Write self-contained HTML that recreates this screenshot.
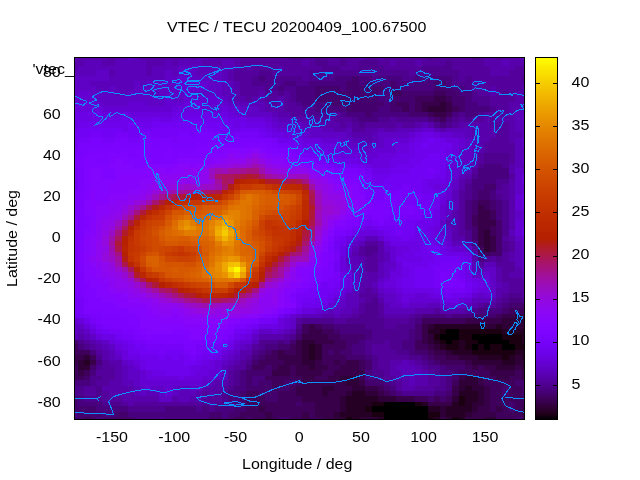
<!DOCTYPE html>
<html><head><meta charset="utf-8"><title>VTEC / TECU 20200409_100.67500</title>
<style>html,body{margin:0;padding:0;background:#fff;overflow:hidden}svg{display:block}</style></head>
<body><svg width="640" height="480" viewBox="0 0 640 480"><defs><linearGradient id="cb" x1="0" y1="0" x2="0" y2="1"><stop offset="0.0000" stop-color="#ffff00"/><stop offset="0.0167" stop-color="#fdf200"/><stop offset="0.0333" stop-color="#fbe600"/><stop offset="0.0500" stop-color="#f9db00"/><stop offset="0.0667" stop-color="#f6cf00"/><stop offset="0.0833" stop-color="#f4c400"/><stop offset="0.1000" stop-color="#f2ba00"/><stop offset="0.1167" stop-color="#f0b000"/><stop offset="0.1333" stop-color="#eda600"/><stop offset="0.1500" stop-color="#eb9d00"/><stop offset="0.1667" stop-color="#e99400"/><stop offset="0.1833" stop-color="#e68b00"/><stop offset="0.2000" stop-color="#e48300"/><stop offset="0.2167" stop-color="#e27b00"/><stop offset="0.2333" stop-color="#df7300"/><stop offset="0.2500" stop-color="#dd6c00"/><stop offset="0.2667" stop-color="#da6500"/><stop offset="0.2833" stop-color="#d85e00"/><stop offset="0.3000" stop-color="#d55700"/><stop offset="0.3167" stop-color="#d35100"/><stop offset="0.3333" stop-color="#d04c00"/><stop offset="0.3500" stop-color="#ce4600"/><stop offset="0.3667" stop-color="#cb4100"/><stop offset="0.3833" stop-color="#c83c00"/><stop offset="0.4000" stop-color="#c63700"/><stop offset="0.4167" stop-color="#c33300"/><stop offset="0.4333" stop-color="#c02e00"/><stop offset="0.4500" stop-color="#bd2a00"/><stop offset="0.4667" stop-color="#ba2700"/><stop offset="0.4833" stop-color="#b72300"/><stop offset="0.5000" stop-color="#b42000"/><stop offset="0.5167" stop-color="#b11d1b"/><stop offset="0.5333" stop-color="#ae1a35"/><stop offset="0.5500" stop-color="#ab174f"/><stop offset="0.5667" stop-color="#a81568"/><stop offset="0.5833" stop-color="#a5127f"/><stop offset="0.6000" stop-color="#a11096"/><stop offset="0.6167" stop-color="#9e0eab"/><stop offset="0.6333" stop-color="#9a0dbe"/><stop offset="0.6500" stop-color="#970bce"/><stop offset="0.6667" stop-color="#9309dd"/><stop offset="0.6833" stop-color="#8f08e9"/><stop offset="0.7000" stop-color="#8c07f3"/><stop offset="0.7167" stop-color="#8806f9"/><stop offset="0.7333" stop-color="#8405fe"/><stop offset="0.7500" stop-color="#8004ff"/><stop offset="0.7667" stop-color="#7b03fe"/><stop offset="0.7833" stop-color="#7703f9"/><stop offset="0.8000" stop-color="#7202f3"/><stop offset="0.8167" stop-color="#6d02e9"/><stop offset="0.8333" stop-color="#6801dd"/><stop offset="0.8500" stop-color="#6301ce"/><stop offset="0.8667" stop-color="#5d01be"/><stop offset="0.8833" stop-color="#5700ab"/><stop offset="0.9000" stop-color="#510096"/><stop offset="0.9167" stop-color="#4a007f"/><stop offset="0.9333" stop-color="#420068"/><stop offset="0.9500" stop-color="#39004f"/><stop offset="0.9667" stop-color="#2f0035"/><stop offset="0.9833" stop-color="#21001b"/><stop offset="1.0000" stop-color="#000000"/></linearGradient></defs><rect width="640" height="480" fill="#fff"/><g shape-rendering="crispEdges"><path fill="#5c01ba" d="M74,58h4v2h-4zM122,58h6v2h-6zM134,58h6v2h-6zM184,58h6v2h-6zM196,58h13v2h-13zM522,58h2v2h-2zM84,60h18v6h-18zM115,60h31v6h-31zM165,60h7v6h-7zM178,60h24v6h-24zM222,60h12v6h-12zM502,60h7v6h-7zM78,66h68v4h-68zM152,66h26v4h-26zM196,66h38v4h-38zM74,70h22v6h-22zM115,70h31v6h-31zM152,70h13v6h-13zM172,70h6v6h-6zM196,70h19v6h-19zM222,70h6v6h-6zM109,76h56v5h-56zM222,76h6v5h-6zM90,81h44v5h-44zM140,81h6v5h-6zM222,81h12v5h-12zM96,86h13v5h-13zM115,86h19v5h-19zM222,86h12v5h-12zM115,91h13v5h-13zM146,91h13v5h-13zM222,91h12v5h-12zM228,96h6v6h-6zM234,102h31v4h-31zM259,106h6v6h-6zM522,106h2v6h-2zM272,112h6v5h-6zM515,112h9v5h-9zM278,117h18v5h-18zM515,117h7v5h-7zM302,122h7v6h-7zM422,122h6v6h-6zM515,122h9v6h-9zM322,128h12v4h-12zM346,128h6v4h-6zM378,128h6v4h-6zM396,128h19v4h-19zM434,128h6v4h-6zM446,128h26v4h-26zM515,128h9v4h-9zM346,132h6v6h-6zM372,132h6v6h-6zM465,132h7v6h-7zM522,132h2v6h-2zM352,138h13v5h-13zM372,138h6v5h-6zM472,138h6v5h-6zM515,138h7v5h-7zM359,143h13v5h-13zM472,143h6v5h-6zM515,143h7v5h-7zM472,148h6v5h-6zM515,148h9v5h-9zM472,153h6v5h-6zM515,153h9v5h-9zM515,158h7v6h-7zM465,164h7v4h-7zM515,164h9v4h-9zM465,168h7v6h-7zM459,174h6v5h-6zM452,190h7v4h-7zM452,194h7v6h-7zM452,200h7v5h-7zM452,205h7v5h-7zM446,215h6v5h-6zM446,226h6v4h-6zM509,230h6v6h-6zM365,236h13v5h-13zM359,241h6v5h-6zM452,241h13v5h-13zM515,241h7v5h-7zM352,246h7v6h-7zM515,246h7v6h-7zM384,252h6v4h-6zM515,252h7v4h-7zM346,256h13v6h-13zM384,256h6v6h-6zM515,256h7v6h-7zM352,262h7v5h-7zM378,262h6v5h-6zM472,262h6v5h-6zM484,262h12v5h-12zM515,262h7v5h-7zM352,267h7v5h-7zM378,267h6v5h-6zM472,267h6v5h-6zM378,272h6v6h-6zM522,272h2v6h-2zM372,282h6v6h-6zM496,282h6v6h-6zM352,288h7v5h-7zM346,293h13v5h-13zM378,293h6v5h-6zM346,298h13v5h-13zM472,298h18v5h-18zM346,303h13v5h-13zM384,303h6v5h-6zM428,303h12v5h-12zM465,303h7v5h-7zM328,308h6v6h-6zM340,308h12v6h-12zM384,308h31v6h-31zM302,314h20v4h-20zM334,314h6v4h-6zM78,329h6v5h-6zM284,329h6v5h-6zM74,334h4v6h-4zM84,334h6v6h-6zM96,340h6v4h-6zM252,340h7v4h-7zM102,344h7v6h-7zM246,344h6v6h-6zM109,350h6v5h-6zM109,355h6v5h-6zM234,355h6v5h-6zM228,360h6v5h-6zM402,360h7v5h-7zM122,365h6v5h-6zM222,365h6v5h-6zM396,365h19v5h-19zM122,370h6v6h-6zM222,370h6v6h-6zM402,370h20v6h-20zM122,376h6v4h-6zM222,376h6v4h-6zM409,376h6v4h-6zM122,380h12v6h-12zM209,380h6v6h-6zM409,380h6v6h-6zM134,386h6v5h-6zM178,386h12v5h-12zM134,391h6v5h-6zM146,391h13v5h-13zM178,391h18v5h-18zM178,396h12v6h-12z"/><path fill="#5800ac" d="M78,58h31v2h-31zM115,58h7v2h-7zM140,58h44v2h-44zM190,58h6v2h-6zM209,58h31v2h-31zM359,58h6v2h-6zM378,58h6v2h-6zM402,58h7v2h-7zM484,58h12v2h-12zM502,58h20v2h-20zM74,60h10v6h-10zM102,60h13v6h-13zM146,60h19v6h-19zM172,60h6v6h-6zM202,60h20v6h-20zM234,60h6v6h-6zM302,60h7v6h-7zM390,60h6v6h-6zM415,60h7v6h-7zM484,60h18v6h-18zM509,60h15v6h-15zM74,66h4v4h-4zM146,66h6v4h-6zM234,66h6v4h-6zM246,66h6v4h-6zM278,66h6v4h-6zM490,66h25v4h-25zM109,70h6v6h-6zM146,70h6v6h-6zM228,70h6v6h-6zM490,70h19v6h-19zM228,76h6v5h-6zM234,81h6v5h-6zM234,86h6v5h-6zM490,86h6v5h-6zM522,86h2v5h-2zM234,91h6v5h-6zM259,91h6v5h-6zM490,91h6v5h-6zM515,91h9v5h-9zM234,96h12v6h-12zM252,96h13v6h-13zM278,96h6v6h-6zM515,96h9v6h-9zM265,102h7v4h-7zM278,102h6v4h-6zM509,102h15v4h-15zM265,106h19v6h-19zM509,106h13v6h-13zM278,112h12v5h-12zM509,112h6v5h-6zM296,117h19v5h-19zM328,117h6v5h-6zM484,117h6v5h-6zM496,117h19v5h-19zM309,122h31v6h-31zM346,122h6v6h-6zM396,122h6v6h-6zM415,122h7v6h-7zM428,122h6v6h-6zM459,122h31v6h-31zM509,122h6v6h-6zM334,128h12v4h-12zM365,128h13v4h-13zM384,128h12v4h-12zM440,128h6v4h-6zM472,128h24v4h-24zM509,128h6v4h-6zM352,132h20v6h-20zM472,132h24v6h-24zM509,132h13v6h-13zM365,138h7v5h-7zM478,138h12v5h-12zM509,138h6v5h-6zM478,143h6v5h-6zM478,148h6v5h-6zM472,158h6v6h-6zM472,164h6v4h-6zM509,164h6v4h-6zM509,168h6v6h-6zM465,174h7v5h-7zM459,179h6v5h-6zM509,179h6v5h-6zM459,184h6v6h-6zM509,184h6v6h-6zM509,190h6v4h-6zM509,194h6v6h-6zM509,200h6v5h-6zM509,205h6v5h-6zM452,210h7v5h-7zM509,210h6v5h-6zM452,215h7v5h-7zM509,215h6v5h-6zM446,220h13v6h-13zM509,220h6v6h-6zM452,226h7v4h-7zM509,226h6v4h-6zM452,230h7v6h-7zM452,236h13v5h-13zM509,236h6v5h-6zM378,241h6v5h-6zM465,241h7v5h-7zM378,246h6v6h-6zM352,252h7v4h-7zM378,252h6v4h-6zM472,252h6v4h-6zM509,252h6v4h-6zM359,256h6v6h-6zM378,256h6v6h-6zM472,256h6v6h-6zM509,256h6v6h-6zM359,262h6v5h-6zM359,267h6v5h-6zM478,267h6v5h-6zM496,267h6v5h-6zM515,267h7v5h-7zM359,272h19v6h-19zM496,272h6v6h-6zM509,272h13v6h-13zM359,278h19v4h-19zM496,278h6v4h-6zM522,278h2v4h-2zM359,282h13v6h-13zM502,282h7v6h-7zM359,288h6v5h-6zM372,288h6v5h-6zM496,288h13v5h-13zM496,293h6v5h-6zM359,298h6v5h-6zM378,298h6v5h-6zM490,298h6v5h-6zM472,303h6v5h-6zM352,308h7v6h-7zM415,308h19v6h-19zM440,308h25v6h-25zM322,314h12v4h-12zM340,314h12v4h-12zM384,314h25v4h-25zM290,329h6v5h-6zM78,334h6v6h-6zM259,334h25v6h-25zM90,340h6v4h-6zM96,344h6v6h-6zM102,350h7v5h-7zM240,350h12v5h-12zM102,355h7v5h-7zM240,355h6v5h-6zM109,360h13v5h-13zM234,360h6v5h-6zM390,360h12v5h-12zM409,360h6v5h-6zM115,365h7v5h-7zM228,365h6v5h-6zM390,365h6v5h-6zM415,365h7v5h-7zM115,370h7v6h-7zM390,370h12v6h-12zM422,370h6v6h-6zM115,376h7v4h-7zM396,376h13v4h-13zM415,376h13v4h-13zM109,380h13v6h-13zM215,380h13v6h-13zM402,380h7v6h-7zM415,380h13v6h-13zM102,386h32v5h-32zM202,386h20v5h-20zM402,386h13v5h-13zM109,391h25v5h-25zM196,391h6v5h-6zM209,391h6v5h-6zM122,396h37v6h-37zM172,396h6v6h-6zM190,396h12v6h-12zM128,402h6v4h-6z"/><path fill="#53009d" d="M109,58h6v2h-6zM240,58h50v2h-50zM302,58h13v2h-13zM322,58h18v2h-18zM346,58h13v2h-13zM365,58h13v2h-13zM384,58h18v2h-18zM409,58h19v2h-19zM434,58h38v2h-38zM478,58h6v2h-6zM496,58h6v2h-6zM240,60h62v6h-62zM309,60h6v6h-6zM328,60h12v6h-12zM346,60h13v6h-13zM378,60h12v6h-12zM396,60h19v6h-19zM422,60h24v6h-24zM452,60h32v6h-32zM240,66h6v4h-6zM252,66h26v4h-26zM284,66h38v4h-38zM340,66h19v4h-19zM384,66h38v4h-38zM452,66h38v4h-38zM515,66h9v4h-9zM234,70h25v6h-25zM272,70h37v6h-37zM409,70h6v6h-6zM459,70h31v6h-31zM509,70h15v6h-15zM234,76h18v5h-18zM302,76h7v5h-7zM459,76h6v5h-6zM472,76h50v5h-50zM240,81h12v5h-12zM472,81h52v5h-52zM240,86h25v5h-25zM472,86h18v5h-18zM496,86h26v5h-26zM240,91h19v5h-19zM272,91h6v5h-6zM284,91h6v5h-6zM478,91h12v5h-12zM496,91h6v5h-6zM509,91h6v5h-6zM246,96h6v6h-6zM265,96h13v6h-13zM284,96h6v6h-6zM490,96h25v6h-25zM272,102h6v4h-6zM284,102h12v4h-12zM490,102h19v4h-19zM284,106h18v6h-18zM496,106h13v6h-13zM290,112h19v5h-19zM334,112h6v5h-6zM484,112h25v5h-25zM315,117h13v5h-13zM334,117h18v5h-18zM390,117h6v5h-6zM459,117h6v5h-6zM472,117h12v5h-12zM490,117h6v5h-6zM340,122h6v6h-6zM352,122h7v6h-7zM365,122h31v6h-31zM402,122h13v6h-13zM452,122h7v6h-7zM490,122h19v6h-19zM352,128h13v4h-13zM496,128h13v4h-13zM496,132h13v6h-13zM490,138h19v5h-19zM484,143h31v5h-31zM484,148h31v5h-31zM478,153h6v5h-6zM509,153h6v5h-6zM478,158h6v6h-6zM509,158h6v6h-6zM472,168h6v6h-6zM509,174h6v5h-6zM465,179h7v5h-7zM502,184h7v6h-7zM459,190h6v4h-6zM496,190h13v4h-13zM459,194h6v6h-6zM502,194h7v6h-7zM459,200h6v5h-6zM459,205h6v5h-6zM459,210h6v5h-6zM459,215h6v5h-6zM459,220h6v6h-6zM459,226h6v4h-6zM459,230h6v6h-6zM502,236h7v5h-7zM365,241h13v5h-13zM509,241h6v5h-6zM359,246h6v6h-6zM472,246h6v6h-6zM509,246h6v6h-6zM359,252h6v4h-6zM372,252h6v4h-6zM502,252h7v4h-7zM365,256h13v6h-13zM490,256h6v6h-6zM502,256h7v6h-7zM365,262h13v5h-13zM478,262h6v5h-6zM496,262h19v5h-19zM365,267h13v5h-13zM502,267h13v5h-13zM502,272h7v6h-7zM502,278h20v4h-20zM509,282h15v6h-15zM365,288h7v5h-7zM509,288h15v5h-15zM359,293h19v5h-19zM502,293h7v5h-7zM522,293h2v5h-2zM365,298h7v5h-7zM496,298h6v5h-6zM359,303h6v5h-6zM378,303h6v5h-6zM478,303h6v5h-6zM490,303h6v5h-6zM359,308h6v6h-6zM378,308h6v6h-6zM434,308h6v6h-6zM465,308h7v6h-7zM352,314h7v4h-7zM378,314h6v4h-6zM409,314h6v4h-6zM296,318h6v6h-6zM334,318h12v6h-12zM384,318h25v6h-25zM384,324h12v5h-12zM284,334h6v6h-6zM84,340h6v4h-6zM384,340h6v4h-6zM90,344h6v6h-6zM252,344h7v6h-7zM372,344h18v6h-18zM96,350h6v5h-6zM372,350h24v5h-24zM246,355h6v5h-6zM378,355h31v5h-31zM102,360h7v5h-7zM240,360h6v5h-6zM378,360h12v5h-12zM415,360h7v5h-7zM102,365h13v5h-13zM234,365h12v5h-12zM378,365h12v5h-12zM422,365h6v5h-6zM96,370h19v6h-19zM228,370h6v6h-6zM384,370h6v6h-6zM428,370h6v6h-6zM102,376h13v4h-13zM228,376h6v4h-6zM384,376h12v4h-12zM428,376h12v4h-12zM96,380h13v6h-13zM228,380h6v6h-6zM396,380h6v6h-6zM428,380h12v6h-12zM84,386h12v5h-12zM222,386h6v5h-6zM396,386h6v5h-6zM415,386h19v5h-19zM84,391h12v5h-12zM102,391h7v5h-7zM202,391h7v5h-7zM215,391h7v5h-7zM102,396h20v6h-20zM202,396h20v6h-20zM122,402h6v4h-6zM134,402h68v4h-68zM209,402h6v4h-6z"/><path fill="#6001c6" d="M128,58h6v2h-6zM178,66h18v4h-18zM96,70h13v6h-13zM165,70h7v6h-7zM178,70h18v6h-18zM215,70h7v6h-7zM74,76h35v5h-35zM165,76h13v5h-13zM190,76h32v5h-32zM74,81h16v5h-16zM134,81h6v5h-6zM146,81h32v5h-32zM209,81h13v5h-13zM74,86h22v5h-22zM109,86h6v5h-6zM134,86h44v5h-44zM209,86h13v5h-13zM74,91h4v5h-4zM90,91h25v5h-25zM128,91h18v5h-18zM159,91h25v5h-25zM190,91h32v5h-32zM96,96h69v6h-69zM172,96h12v6h-12zM222,96h6v6h-6zM102,102h26v4h-26zM146,102h19v4h-19zM228,102h6v4h-6zM240,106h19v6h-19zM246,112h26v5h-26zM272,117h6v5h-6zM522,117h2v5h-2zM278,122h24v6h-24zM296,128h26v4h-26zM415,128h7v4h-7zM309,132h37v6h-37zM378,132h31v6h-31zM452,132h13v6h-13zM340,138h12v5h-12zM378,138h6v5h-6zM465,138h7v5h-7zM522,138h2v5h-2zM346,143h13v5h-13zM372,143h12v5h-12zM465,143h7v5h-7zM522,143h2v5h-2zM359,148h13v5h-13zM459,148h13v5h-13zM459,153h13v5h-13zM459,158h13v6h-13zM522,158h2v6h-2zM459,164h6v4h-6zM459,168h6v6h-6zM515,168h9v6h-9zM515,174h7v5h-7zM452,179h7v5h-7zM515,179h7v5h-7zM452,184h7v6h-7zM515,184h7v6h-7zM515,190h7v4h-7zM446,200h6v5h-6zM446,205h6v5h-6zM446,210h6v5h-6zM515,210h7v5h-7zM515,215h7v5h-7zM440,220h6v6h-6zM446,230h6v6h-6zM446,236h6v5h-6zM515,236h7v5h-7zM352,241h7v5h-7zM522,241h2v5h-2zM384,246h6v6h-6zM465,246h7v6h-7zM522,246h2v6h-2zM346,252h6v4h-6zM522,252h2v4h-2zM522,256h2v6h-2zM346,262h6v5h-6zM384,262h12v5h-12zM522,262h2v5h-2zM384,267h6v5h-6zM484,267h12v5h-12zM522,267h2v5h-2zM352,272h7v6h-7zM384,272h6v6h-6zM472,272h12v6h-12zM490,272h6v6h-6zM352,278h7v4h-7zM378,278h6v4h-6zM490,278h6v4h-6zM352,282h7v6h-7zM490,282h6v6h-6zM378,288h6v5h-6zM490,288h6v5h-6zM384,293h12v5h-12zM478,293h6v5h-6zM490,293h6v5h-6zM340,298h6v5h-6zM384,298h12v5h-12zM334,303h12v5h-12zM390,303h12v5h-12zM409,303h19v5h-19zM440,303h6v5h-6zM459,303h6v5h-6zM322,308h6v6h-6zM334,308h6v6h-6zM296,314h6v4h-6zM290,318h6v6h-6zM74,324h10v5h-10zM290,324h6v5h-6zM74,329h4v5h-4zM84,329h6v5h-6zM259,329h13v5h-13zM278,329h6v5h-6zM90,334h6v6h-6zM252,334h7v6h-7zM102,340h7v4h-7zM109,344h6v6h-6zM240,344h6v6h-6zM234,350h6v5h-6zM115,355h7v5h-7zM228,355h6v5h-6zM122,360h6v5h-6zM222,360h6v5h-6zM128,365h6v5h-6zM128,370h12v6h-12zM128,376h12v4h-12zM215,376h7v4h-7zM134,380h6v6h-6zM202,380h7v6h-7zM140,386h6v5h-6zM152,386h13v5h-13zM172,386h6v5h-6zM190,386h12v5h-12zM140,391h6v5h-6zM159,391h6v5h-6zM172,391h6v5h-6zM159,396h13v6h-13z"/><path fill="#4e008e" d="M290,58h12v2h-12zM315,58h7v2h-7zM340,58h6v2h-6zM428,58h6v2h-6zM472,58h6v2h-6zM315,60h13v6h-13zM340,60h6v6h-6zM359,60h19v6h-19zM446,60h6v6h-6zM322,66h18v4h-18zM359,66h25v4h-25zM422,66h30v4h-30zM259,70h13v6h-13zM309,70h100v6h-100zM415,70h44v6h-44zM252,76h7v5h-7zM265,76h37v5h-37zM309,76h25v5h-25zM372,76h6v5h-6zM402,76h13v5h-13zM452,76h7v5h-7zM465,76h7v5h-7zM522,76h2v5h-2zM252,81h32v5h-32zM296,81h13v5h-13zM452,81h20v5h-20zM265,86h13v5h-13zM284,86h12v5h-12zM465,86h7v5h-7zM265,91h7v5h-7zM278,91h6v5h-6zM290,91h6v5h-6zM472,91h6v5h-6zM502,91h7v5h-7zM290,96h6v6h-6zM472,96h18v6h-18zM296,102h6v4h-6zM478,102h12v4h-12zM302,106h13v6h-13zM490,106h6v6h-6zM309,112h25v5h-25zM340,112h6v5h-6zM459,112h6v5h-6zM478,112h6v5h-6zM352,117h7v5h-7zM378,117h12v5h-12zM396,117h32v5h-32zM452,117h7v5h-7zM465,117h7v5h-7zM359,122h6v6h-6zM434,122h6v6h-6zM446,122h6v6h-6zM484,153h25v5h-25zM484,158h25v6h-25zM478,164h6v4h-6zM502,164h7v4h-7zM472,174h6v5h-6zM496,179h13v5h-13zM465,184h7v6h-7zM496,184h6v6h-6zM465,190h7v4h-7zM465,194h7v6h-7zM496,194h6v6h-6zM502,200h7v5h-7zM502,205h7v5h-7zM502,210h7v5h-7zM502,215h7v5h-7zM502,220h7v6h-7zM502,226h7v4h-7zM465,230h7v6h-7zM502,230h7v6h-7zM465,236h7v5h-7zM502,241h7v5h-7zM365,246h13v6h-13zM502,246h7v6h-7zM365,252h7v4h-7zM484,256h6v6h-6zM496,256h6v6h-6zM509,293h13v5h-13zM372,298h6v5h-6zM502,298h7v5h-7zM522,298h2v5h-2zM365,303h13v5h-13zM484,303h6v5h-6zM496,303h6v5h-6zM365,308h13v6h-13zM472,308h6v6h-6zM359,314h19v4h-19zM415,314h7v4h-7zM446,314h6v4h-6zM302,318h32v6h-32zM346,318h38v6h-38zM409,318h6v6h-6zM296,324h6v5h-6zM365,324h19v5h-19zM396,324h19v5h-19zM372,329h37v5h-37zM290,334h6v6h-6zM372,334h37v6h-37zM78,340h6v4h-6zM259,340h19v4h-19zM284,340h6v4h-6zM365,340h19v4h-19zM390,340h12v4h-12zM84,344h6v6h-6zM259,344h6v6h-6zM365,344h7v6h-7zM390,344h12v6h-12zM252,350h7v5h-7zM365,350h7v5h-7zM396,350h13v5h-13zM96,355h6v5h-6zM372,355h6v5h-6zM409,355h13v5h-13zM246,360h6v5h-6zM372,360h6v5h-6zM422,360h6v5h-6zM96,365h6v5h-6zM372,365h6v5h-6zM428,365h12v5h-12zM234,370h6v6h-6zM372,370h12v6h-12zM434,370h6v6h-6zM90,376h12v4h-12zM234,376h6v4h-6zM378,376h6v4h-6zM440,376h6v4h-6zM90,380h6v6h-6zM234,380h6v6h-6zM390,380h6v6h-6zM440,380h6v6h-6zM74,386h10v5h-10zM96,386h6v5h-6zM228,386h6v5h-6zM434,386h12v5h-12zM74,391h10v5h-10zM96,391h6v5h-6zM222,391h6v5h-6zM402,391h32v5h-32zM84,396h18v6h-18zM222,396h6v6h-6zM102,402h20v4h-20zM202,402h7v4h-7zM215,402h19v4h-19zM128,406h37v6h-37zM196,406h6v6h-6zM209,406h6v6h-6zM159,417h6v3h-6z"/><path fill="#6401d2" d="M178,76h12v5h-12zM178,81h31v5h-31zM178,86h31v5h-31zM78,91h12v5h-12zM184,91h6v5h-6zM74,96h22v6h-22zM165,96h7v6h-7zM184,96h38v6h-38zM90,102h12v4h-12zM128,102h18v4h-18zM165,102h19v4h-19zM202,102h26v4h-26zM102,106h70v6h-70zM202,106h20v6h-20zM228,106h12v6h-12zM234,112h12v5h-12zM265,117h7v5h-7zM272,122h6v6h-6zM278,128h18v4h-18zM422,128h12v4h-12zM296,132h13v6h-13zM409,132h6v6h-6zM440,132h12v6h-12zM322,138h18v5h-18zM384,138h25v5h-25zM459,138h6v5h-6zM340,143h6v5h-6zM384,143h12v5h-12zM459,143h6v5h-6zM340,148h19v5h-19zM372,148h24v5h-24zM359,153h19v5h-19zM365,158h7v6h-7zM452,158h7v6h-7zM452,164h7v4h-7zM452,168h7v6h-7zM452,174h7v5h-7zM446,184h6v6h-6zM522,184h2v6h-2zM446,190h6v4h-6zM522,190h2v4h-2zM446,194h6v6h-6zM515,194h7v6h-7zM515,200h7v5h-7zM440,205h6v5h-6zM515,205h7v5h-7zM440,210h6v5h-6zM522,210h2v5h-2zM440,215h6v5h-6zM522,215h2v5h-2zM515,220h9v6h-9zM440,226h6v4h-6zM515,226h7v4h-7zM440,230h6v6h-6zM515,230h7v6h-7zM352,236h13v5h-13zM378,236h6v5h-6zM522,236h2v5h-2zM384,241h6v5h-6zM446,241h6v5h-6zM346,246h6v6h-6zM390,246h6v6h-6zM452,246h13v6h-13zM390,252h6v4h-6zM390,256h6v6h-6zM346,267h6v5h-6zM390,267h6v5h-6zM484,272h6v6h-6zM384,278h6v4h-6zM378,282h6v6h-6zM346,288h6v5h-6zM384,288h12v5h-12zM340,293h6v5h-6zM396,293h6v5h-6zM415,293h13v5h-13zM472,293h6v5h-6zM484,293h6v5h-6zM334,298h6v5h-6zM396,298h6v5h-6zM409,298h31v5h-31zM459,298h13v5h-13zM328,303h6v5h-6zM402,303h7v5h-7zM446,303h13v5h-13zM315,308h7v6h-7zM290,314h6v4h-6zM74,318h4v6h-4zM284,318h6v6h-6zM284,324h6v5h-6zM272,329h6v5h-6zM240,340h12v4h-12zM234,344h6v6h-6zM115,350h7v5h-7zM228,350h6v5h-6zM222,355h6v5h-6zM128,360h6v5h-6zM215,360h7v5h-7zM134,365h6v5h-6zM215,365h7v5h-7zM140,370h6v6h-6zM209,370h13v6h-13zM140,376h6v4h-6zM202,376h13v4h-13zM140,380h62v6h-62zM146,386h6v5h-6zM165,386h7v5h-7zM165,391h7v5h-7z"/><path fill="#49007e" d="M259,76h6v5h-6zM334,76h18v5h-18zM359,76h13v5h-13zM378,76h24v5h-24zM415,76h37v5h-37zM284,81h12v5h-12zM309,81h37v5h-37zM359,81h6v5h-6zM372,81h18v5h-18zM396,81h38v5h-38zM446,81h6v5h-6zM278,86h6v5h-6zM296,86h19v5h-19zM340,86h6v5h-6zM384,86h6v5h-6zM402,86h32v5h-32zM452,86h13v5h-13zM296,91h19v5h-19zM378,91h12v5h-12zM459,91h13v5h-13zM296,96h19v6h-19zM378,96h12v6h-12zM465,96h7v6h-7zM302,102h26v4h-26zM384,102h6v4h-6zM465,102h13v4h-13zM315,106h31v6h-31zM378,106h12v6h-12zM465,106h25v6h-25zM346,112h19v5h-19zM372,112h37v5h-37zM452,112h7v5h-7zM465,112h13v5h-13zM359,117h19v5h-19zM428,117h6v5h-6zM446,117h6v5h-6zM440,122h6v6h-6zM484,164h18v4h-18zM478,168h31v6h-31zM478,174h31v5h-31zM472,179h24v5h-24zM472,184h12v6h-12zM472,190h6v4h-6zM490,190h6v4h-6zM472,194h6v6h-6zM490,194h6v6h-6zM465,200h7v5h-7zM496,200h6v5h-6zM465,205h7v5h-7zM496,205h6v5h-6zM465,210h7v5h-7zM496,210h6v5h-6zM465,215h7v5h-7zM496,215h6v5h-6zM465,220h7v6h-7zM465,226h7v4h-7zM472,241h6v5h-6zM478,256h6v6h-6zM509,298h13v5h-13zM502,303h7v5h-7zM478,308h24v6h-24zM422,314h24v4h-24zM452,314h20v4h-20zM415,318h7v6h-7zM334,324h31v5h-31zM296,329h6v5h-6zM340,329h32v5h-32zM409,329h6v5h-6zM365,334h7v6h-7zM409,334h6v6h-6zM278,340h6v4h-6zM359,340h6v4h-6zM402,340h13v4h-13zM78,344h6v6h-6zM265,344h13v6h-13zM352,344h13v6h-13zM402,344h13v6h-13zM90,350h6v5h-6zM259,350h6v5h-6zM352,350h13v5h-13zM409,350h6v5h-6zM252,355h7v5h-7zM365,355h7v5h-7zM422,355h6v5h-6zM96,360h6v5h-6zM428,360h6v5h-6zM246,365h6v5h-6zM440,365h6v5h-6zM90,370h6v6h-6zM240,370h6v6h-6zM365,370h7v6h-7zM440,370h12v6h-12zM240,376h6v4h-6zM252,376h13v4h-13zM365,376h13v4h-13zM446,376h6v4h-6zM74,380h16v6h-16zM240,380h6v6h-6zM252,380h7v6h-7zM384,380h6v6h-6zM446,380h6v6h-6zM234,386h12v5h-12zM390,386h6v5h-6zM446,386h6v5h-6zM228,391h12v5h-12zM396,391h6v5h-6zM434,391h12v5h-12zM78,396h6v6h-6zM228,396h12v6h-12zM78,402h24v4h-24zM234,402h6v4h-6zM96,406h32v6h-32zM165,406h31v6h-31zM202,406h7v6h-7zM215,406h19v6h-19zM74,412h4v5h-4zM102,412h13v5h-13zM128,412h81v5h-81zM222,412h6v5h-6zM96,417h6v3h-6zM134,417h25v3h-25zM165,417h44v3h-44zM222,417h6v3h-6z"/><path fill="#44006d" d="M352,76h7v5h-7zM346,81h13v5h-13zM365,81h7v5h-7zM390,81h6v5h-6zM434,81h12v5h-12zM315,86h25v5h-25zM346,86h38v5h-38zM390,86h12v5h-12zM434,86h18v5h-18zM315,91h63v5h-63zM402,91h32v5h-32zM446,91h13v5h-13zM315,96h63v6h-63zM390,96h25v6h-25zM452,96h13v6h-13zM328,102h56v4h-56zM390,102h6v4h-6zM409,102h6v4h-6zM452,102h13v4h-13zM346,106h32v6h-32zM390,106h12v6h-12zM409,106h6v6h-6zM459,106h6v6h-6zM365,112h7v5h-7zM409,112h19v5h-19zM434,117h6v5h-6zM484,184h12v6h-12zM478,190h12v4h-12zM478,194h12v6h-12zM472,200h6v5h-6zM490,200h6v5h-6zM472,205h6v5h-6zM490,205h6v5h-6zM472,210h6v5h-6zM496,220h6v6h-6zM472,226h6v4h-6zM496,226h6v4h-6zM472,230h6v6h-6zM496,230h6v6h-6zM472,236h6v5h-6zM496,236h6v5h-6zM496,241h6v5h-6zM496,246h6v6h-6zM478,252h6v4h-6zM490,252h12v4h-12zM509,303h15v5h-15zM502,308h7v6h-7zM472,314h24v4h-24zM322,324h12v5h-12zM415,324h7v5h-7zM334,329h6v5h-6zM415,329h7v5h-7zM296,334h6v6h-6zM340,334h25v6h-25zM415,334h7v6h-7zM74,340h4v4h-4zM290,340h6v4h-6zM346,340h13v4h-13zM278,344h12v6h-12zM346,344h6v6h-6zM265,350h7v5h-7zM328,350h6v5h-6zM340,350h12v5h-12zM415,350h13v5h-13zM259,355h6v5h-6zM346,355h19v5h-19zM428,355h6v5h-6zM252,360h7v5h-7zM365,360h7v5h-7zM434,360h6v5h-6zM90,365h6v5h-6zM265,365h7v5h-7zM365,365h7v5h-7zM446,365h19v5h-19zM246,370h26v6h-26zM452,370h7v6h-7zM84,376h6v4h-6zM246,376h6v4h-6zM452,376h7v4h-7zM246,380h6v6h-6zM259,380h13v6h-13zM284,380h12v6h-12zM365,380h19v6h-19zM515,380h9v6h-9zM246,386h26v5h-26zM278,386h12v5h-12zM384,386h6v5h-6zM502,386h7v5h-7zM522,386h2v5h-2zM240,391h6v5h-6zM259,391h19v5h-19zM390,391h6v5h-6zM446,391h6v5h-6zM502,391h7v5h-7zM522,391h2v5h-2zM74,396h4v6h-4zM240,396h6v6h-6zM265,396h13v6h-13zM428,396h6v6h-6zM440,396h6v6h-6zM74,402h4v4h-4zM240,402h6v4h-6zM296,402h6v4h-6zM509,402h6v4h-6zM74,406h22v6h-22zM234,406h12v6h-12zM509,406h6v6h-6zM78,412h24v5h-24zM115,412h13v5h-13zM209,412h13v5h-13zM228,412h12v5h-12zM74,417h10v3h-10zM90,417h6v3h-6zM102,417h32v3h-32zM209,417h13v3h-13zM228,417h6v3h-6zM246,417h6v3h-6zM278,417h12v3h-12zM515,417h7v3h-7z"/><path fill="#3e005b" d="M390,91h12v5h-12zM434,91h12v5h-12zM415,96h19v6h-19zM446,96h6v6h-6zM396,102h13v4h-13zM415,102h7v4h-7zM402,106h7v6h-7zM415,106h7v6h-7zM452,106h7v6h-7zM428,112h6v5h-6zM446,112h6v5h-6zM440,117h6v5h-6zM478,200h12v5h-12zM484,205h6v5h-6zM490,210h6v5h-6zM472,215h6v5h-6zM490,215h6v5h-6zM472,220h6v6h-6zM490,226h6v4h-6zM490,230h6v6h-6zM478,246h6v6h-6zM484,252h6v4h-6zM509,308h15v6h-15zM496,314h6v4h-6zM422,318h43v6h-43zM302,324h7v5h-7zM315,324h7v5h-7zM302,329h7v5h-7zM322,329h12v5h-12zM328,334h12v6h-12zM334,340h12v4h-12zM415,340h7v4h-7zM74,344h4v6h-4zM290,344h6v6h-6zM322,344h24v6h-24zM415,344h13v6h-13zM74,350h16v5h-16zM272,350h6v5h-6zM284,350h12v5h-12zM322,350h6v5h-6zM334,350h6v5h-6zM428,350h6v5h-6zM90,355h6v5h-6zM265,355h13v5h-13zM322,355h24v5h-24zM434,355h12v5h-12zM259,360h25v5h-25zM322,360h12v5h-12zM340,360h6v5h-6zM359,360h6v5h-6zM440,360h25v5h-25zM74,365h4v5h-4zM252,365h13v5h-13zM272,365h6v5h-6zM290,365h6v5h-6zM328,365h12v5h-12zM359,365h6v5h-6zM465,365h7v5h-7zM478,365h6v5h-6zM74,370h4v6h-4zM84,370h6v6h-6zM290,370h6v6h-6zM322,370h12v6h-12zM459,370h31v6h-31zM515,370h7v6h-7zM74,376h10v4h-10zM265,376h37v4h-37zM315,376h13v4h-13zM359,376h6v4h-6zM484,376h12v4h-12zM509,376h13v4h-13zM272,380h12v6h-12zM296,380h6v6h-6zM452,380h7v6h-7zM484,380h31v6h-31zM272,386h6v5h-6zM290,386h6v5h-6zM378,386h6v5h-6zM490,386h12v5h-12zM509,386h13v5h-13zM246,391h13v5h-13zM278,391h18v5h-18zM384,391h6v5h-6zM490,391h12v5h-12zM509,391h13v5h-13zM246,396h19v6h-19zM278,396h24v6h-24zM415,396h13v6h-13zM434,396h6v6h-6zM446,396h6v6h-6zM490,396h34v6h-34zM246,402h50v4h-50zM302,402h13v4h-13zM490,402h19v4h-19zM515,402h9v4h-9zM246,406h13v6h-13zM265,406h50v6h-50zM490,406h6v6h-6zM502,406h7v6h-7zM515,406h7v6h-7zM240,412h25v5h-25zM272,412h30v5h-30zM309,412h6v5h-6zM496,412h26v5h-26zM84,417h6v3h-6zM234,417h12v3h-12zM252,417h13v3h-13zM272,417h6v3h-6zM290,417h12v3h-12zM309,417h13v3h-13zM496,417h19v3h-19zM522,417h2v3h-2z"/><path fill="#370049" d="M434,96h12v6h-12zM422,102h18v4h-18zM446,102h6v4h-6zM422,106h6v6h-6zM446,106h6v6h-6zM434,112h12v5h-12zM478,205h6v5h-6zM478,210h12v5h-12zM478,215h12v5h-12zM478,220h18v6h-18zM478,226h12v4h-12zM478,230h6v6h-6zM478,236h6v5h-6zM490,236h6v5h-6zM478,241h6v5h-6zM490,241h6v5h-6zM490,246h6v6h-6zM502,314h13v4h-13zM522,314h2v4h-2zM465,318h37v6h-37zM309,324h6v5h-6zM422,324h6v5h-6zM309,329h13v5h-13zM422,329h6v5h-6zM302,334h26v6h-26zM422,334h6v6h-6zM296,340h6v4h-6zM315,340h19v4h-19zM422,340h6v4h-6zM296,344h6v6h-6zM428,344h6v6h-6zM278,350h6v5h-6zM296,350h6v5h-6zM434,350h12v5h-12zM74,355h10v5h-10zM278,355h24v5h-24zM446,355h13v5h-13zM74,360h4v5h-4zM90,360h6v5h-6zM284,360h18v5h-18zM315,360h7v5h-7zM334,360h6v5h-6zM346,360h13v5h-13zM465,360h7v5h-7zM278,365h12v5h-12zM296,365h13v5h-13zM315,365h13v5h-13zM340,365h19v5h-19zM472,365h6v5h-6zM484,365h12v5h-12zM515,365h7v5h-7zM78,370h6v6h-6zM272,370h18v6h-18zM296,370h26v6h-26zM334,370h31v6h-31zM490,370h25v6h-25zM522,370h2v6h-2zM302,376h13v4h-13zM328,376h12v4h-12zM459,376h6v4h-6zM478,376h6v4h-6zM496,376h13v4h-13zM522,376h2v4h-2zM302,380h44v6h-44zM359,380h6v6h-6zM478,380h6v6h-6zM296,386h26v5h-26zM334,386h18v5h-18zM365,386h13v5h-13zM452,386h7v5h-7zM484,386h6v5h-6zM296,391h26v5h-26zM328,391h18v5h-18zM378,391h6v5h-6zM452,391h7v5h-7zM484,391h6v5h-6zM302,396h38v6h-38zM396,396h19v6h-19zM484,396h6v6h-6zM315,402h25v4h-25zM428,402h24v4h-24zM484,402h6v4h-6zM259,406h6v6h-6zM315,406h25v6h-25zM478,406h12v6h-12zM496,406h6v6h-6zM522,406h2v6h-2zM265,412h7v5h-7zM302,412h7v5h-7zM315,412h19v5h-19zM472,412h24v5h-24zM522,412h2v5h-2zM265,417h7v3h-7zM302,417h7v3h-7zM322,417h12v3h-12zM440,417h6v3h-6zM465,417h19v3h-19z"/><path fill="#6801dc" d="M74,102h16v4h-16zM184,102h18v4h-18zM74,106h28v6h-28zM172,106h30v6h-30zM222,106h6v6h-6zM102,112h20v5h-20zM128,112h44v5h-44zM215,112h7v5h-7zM228,112h6v5h-6zM246,117h19v5h-19zM265,122h7v6h-7zM272,128h6v4h-6zM284,132h12v6h-12zM415,132h7v6h-7zM434,132h6v6h-6zM302,138h20v5h-20zM409,138h6v5h-6zM446,138h13v5h-13zM322,143h18v5h-18zM396,143h13v5h-13zM452,143h7v5h-7zM328,148h12v5h-12zM396,148h13v5h-13zM452,148h7v5h-7zM340,153h19v5h-19zM378,153h18v5h-18zM452,153h7v5h-7zM359,158h6v6h-6zM372,158h18v6h-18zM372,164h18v4h-18zM446,164h6v4h-6zM446,168h6v6h-6zM446,174h6v5h-6zM522,174h2v5h-2zM446,179h6v5h-6zM522,179h2v5h-2zM434,184h12v6h-12zM440,194h6v6h-6zM522,194h2v6h-2zM440,200h6v5h-6zM522,205h2v5h-2zM434,226h6v4h-6zM522,226h2v4h-2zM359,230h19v6h-19zM434,230h6v6h-6zM434,236h12v5h-12zM346,241h6v5h-6zM440,241h6v5h-6zM396,246h13v6h-13zM446,246h6v6h-6zM396,252h6v4h-6zM465,252h7v4h-7zM340,256h6v6h-6zM340,262h6v5h-6zM396,262h6v5h-6zM340,267h6v5h-6zM396,267h6v5h-6zM346,272h6v6h-6zM390,272h12v6h-12zM346,278h6v4h-6zM390,278h6v4h-6zM478,278h12v4h-12zM346,282h6v6h-6zM384,282h12v6h-12zM484,282h6v6h-6zM340,288h6v5h-6zM396,288h6v5h-6zM478,288h12v5h-12zM402,293h13v5h-13zM428,293h6v5h-6zM402,298h7v5h-7zM440,298h6v5h-6zM302,308h13v6h-13zM78,318h6v6h-6zM278,318h6v6h-6zM84,324h6v5h-6zM278,324h6v5h-6zM90,329h6v5h-6zM252,329h7v5h-7zM96,334h6v6h-6zM246,334h6v6h-6zM109,340h6v4h-6zM234,340h6v4h-6zM115,344h7v6h-7zM122,350h6v5h-6zM222,350h6v5h-6zM122,355h6v5h-6zM134,360h6v5h-6zM209,360h6v5h-6zM202,365h13v5h-13zM146,370h6v6h-6zM196,370h13v6h-13zM146,376h32v4h-32zM184,376h18v4h-18z"/><path fill="#2f0037" d="M440,102h6v4h-6zM428,106h18v6h-18zM484,230h6v6h-6zM484,236h6v5h-6zM484,241h6v5h-6zM484,246h6v6h-6zM515,314h7v4h-7zM502,318h22v6h-22zM428,324h6v5h-6zM484,324h12v5h-12zM502,324h22v5h-22zM428,334h6v6h-6zM302,340h13v4h-13zM428,340h6v4h-6zM302,344h7v6h-7zM315,344h7v6h-7zM434,344h6v6h-6zM302,350h7v5h-7zM315,350h7v5h-7zM446,350h6v5h-6zM84,355h6v5h-6zM302,355h7v5h-7zM315,355h7v5h-7zM459,355h19v5h-19zM515,355h7v5h-7zM78,360h6v5h-6zM302,360h13v5h-13zM472,360h30v5h-30zM515,360h9v5h-9zM78,365h12v5h-12zM309,365h6v5h-6zM496,365h19v5h-19zM522,365h2v5h-2zM340,376h19v4h-19zM465,376h13v4h-13zM346,380h13v6h-13zM459,380h19v6h-19zM322,386h12v5h-12zM352,386h13v5h-13zM459,386h6v5h-6zM472,386h12v5h-12zM322,391h6v5h-6zM346,391h6v5h-6zM365,391h13v5h-13zM478,391h6v5h-6zM340,396h6v6h-6zM378,396h18v6h-18zM452,396h7v6h-7zM478,396h6v6h-6zM340,402h6v4h-6zM472,402h12v4h-12zM340,406h6v6h-6zM440,406h6v6h-6zM472,406h6v6h-6zM334,412h6v5h-6zM440,412h6v5h-6zM465,412h7v5h-7zM334,417h12v3h-12zM359,417h19v3h-19zM446,417h6v3h-6zM484,417h12v3h-12z"/><path fill="#6b01e5" d="M74,112h28v5h-28zM122,112h6v5h-6zM172,112h43v5h-43zM222,112h6v5h-6zM74,117h48v5h-48zM128,117h24v5h-24zM159,117h13v5h-13zM228,117h18v5h-18zM74,122h4v6h-4zM234,122h6v6h-6zM246,122h19v6h-19zM265,128h7v4h-7zM272,132h12v6h-12zM422,132h12v6h-12zM296,138h6v5h-6zM415,138h7v5h-7zM440,138h6v5h-6zM302,143h20v5h-20zM409,143h6v5h-6zM315,148h13v5h-13zM409,148h6v5h-6zM446,148h6v5h-6zM328,153h12v5h-12zM396,153h19v5h-19zM446,153h6v5h-6zM340,158h19v6h-19zM390,158h19v6h-19zM446,158h6v6h-6zM365,164h7v4h-7zM390,164h6v4h-6zM372,168h18v6h-18zM428,179h18v5h-18zM428,184h6v6h-6zM434,190h12v4h-12zM522,200h2v5h-2zM434,210h6v5h-6zM434,215h6v5h-6zM434,220h6v6h-6zM365,226h7v4h-7zM428,226h6v4h-6zM378,230h6v6h-6zM415,230h19v6h-19zM522,230h2v6h-2zM346,236h6v5h-6zM384,236h6v5h-6zM415,236h19v5h-19zM390,241h32v5h-32zM434,241h6v5h-6zM340,246h6v6h-6zM409,246h13v6h-13zM440,246h6v6h-6zM340,252h6v4h-6zM402,252h13v4h-13zM446,252h19v4h-19zM396,256h26v6h-26zM465,256h7v6h-7zM402,267h7v5h-7zM465,267h7v5h-7zM340,272h6v6h-6zM402,272h7v6h-7zM465,272h7v6h-7zM396,278h6v4h-6zM472,278h6v4h-6zM340,282h6v6h-6zM396,282h6v6h-6zM478,282h6v6h-6zM402,288h32v5h-32zM472,288h6v5h-6zM334,293h6v5h-6zM434,293h6v5h-6zM465,293h7v5h-7zM328,298h6v5h-6zM446,298h13v5h-13zM322,303h6v5h-6zM284,314h6v4h-6zM259,324h19v5h-19zM102,334h13v6h-13zM240,334h6v6h-6zM115,340h7v4h-7zM122,344h6v6h-6zM228,344h6v6h-6zM128,355h12v5h-12zM215,355h7v5h-7zM140,360h6v5h-6zM202,360h7v5h-7zM140,365h6v5h-6zM190,365h12v5h-12zM152,370h13v6h-13zM190,370h6v6h-6zM178,376h6v4h-6z"/><path fill="#6f02ed" d="M122,117h6v5h-6zM152,117h7v5h-7zM172,117h56v5h-56zM78,122h50v6h-50zM134,122h18v6h-18zM222,122h12v6h-12zM240,122h6v6h-6zM74,128h4v4h-4zM122,128h6v4h-6zM228,128h12v4h-12zM259,128h6v4h-6zM265,132h7v6h-7zM278,138h18v5h-18zM422,138h6v5h-6zM434,138h6v5h-6zM296,143h6v5h-6zM415,143h7v5h-7zM428,143h24v5h-24zM302,148h13v5h-13zM415,148h31v5h-31zM322,153h6v5h-6zM415,153h13v5h-13zM440,153h6v5h-6zM328,158h12v6h-12zM409,158h13v6h-13zM440,158h6v6h-6zM359,164h6v4h-6zM396,164h19v4h-19zM440,164h6v4h-6zM390,168h19v6h-19zM440,168h6v6h-6zM372,174h18v5h-18zM434,174h12v5h-12zM372,179h12v5h-12zM422,179h6v5h-6zM422,184h6v6h-6zM422,190h12v4h-12zM434,194h6v6h-6zM434,200h6v5h-6zM434,205h6v5h-6zM422,215h12v5h-12zM415,220h19v6h-19zM359,226h6v4h-6zM372,226h6v4h-6zM415,226h13v4h-13zM352,230h7v6h-7zM384,230h6v6h-6zM390,236h12v5h-12zM409,236h6v5h-6zM340,241h6v5h-6zM422,241h12v5h-12zM422,246h6v6h-6zM415,252h19v4h-19zM440,252h6v4h-6zM422,256h12v6h-12zM459,256h6v6h-6zM402,262h26v5h-26zM465,262h7v5h-7zM409,267h6v5h-6zM409,272h6v6h-6zM340,278h6v4h-6zM402,278h13v4h-13zM465,278h7v4h-7zM402,282h13v6h-13zM472,282h6v6h-6zM334,288h6v5h-6zM434,288h6v5h-6zM328,293h6v5h-6zM440,293h6v5h-6zM452,293h13v5h-13zM315,298h13v5h-13zM302,303h20v5h-20zM296,308h6v6h-6zM84,318h6v6h-6zM90,324h6v5h-6zM96,329h6v5h-6zM246,329h6v5h-6zM234,334h6v6h-6zM122,340h6v4h-6zM228,340h6v4h-6zM128,344h6v6h-6zM222,344h6v6h-6zM128,350h12v5h-12zM215,350h7v5h-7zM140,355h19v5h-19zM165,355h7v5h-7zM178,355h6v5h-6zM202,355h13v5h-13zM146,360h38v5h-38zM196,360h6v5h-6zM146,365h44v5h-44zM165,370h25v6h-25z"/><path fill="#7202f3" d="M128,122h6v6h-6zM152,122h70v6h-70zM78,128h44v4h-44zM128,128h24v4h-24zM215,128h13v4h-13zM240,128h19v4h-19zM74,132h16v6h-16zM102,132h13v6h-13zM128,132h12v6h-12zM222,132h12v6h-12zM259,132h6v6h-6zM74,138h4v5h-4zM428,138h6v5h-6zM74,143h4v5h-4zM290,143h6v5h-6zM422,143h6v5h-6zM309,153h13v5h-13zM428,153h12v5h-12zM322,158h6v6h-6zM422,158h18v6h-18zM334,164h25v4h-25zM415,164h25v4h-25zM365,168h7v6h-7zM409,168h19v6h-19zM434,168h6v6h-6zM390,174h44v5h-44zM74,179h4v5h-4zM384,179h38v5h-38zM74,184h4v6h-4zM372,184h30v6h-30zM409,184h13v6h-13zM415,190h7v4h-7zM422,194h12v6h-12zM415,200h19v5h-19zM428,205h6v5h-6zM422,210h12v5h-12zM365,220h7v6h-7zM402,220h13v6h-13zM378,226h37v4h-37zM390,230h6v6h-6zM402,230h13v6h-13zM340,236h6v5h-6zM402,236h7v5h-7zM334,241h6v5h-6zM334,246h6v6h-6zM428,246h12v6h-12zM434,252h6v4h-6zM434,256h25v6h-25zM334,262h6v5h-6zM428,262h12v5h-12zM459,262h6v5h-6zM334,267h6v5h-6zM415,267h19v5h-19zM459,267h6v5h-6zM415,272h19v6h-19zM459,272h6v6h-6zM415,278h19v4h-19zM322,282h6v6h-6zM334,282h6v6h-6zM415,282h19v6h-19zM465,282h7v6h-7zM315,288h19v5h-19zM440,288h6v5h-6zM465,288h7v5h-7zM315,293h13v5h-13zM446,293h6v5h-6zM302,298h13v5h-13zM74,314h10v4h-10zM278,314h6v4h-6zM272,318h6v6h-6zM252,324h7v5h-7zM102,329h7v5h-7zM234,329h12v5h-12zM115,334h7v6h-7zM128,340h6v4h-6zM134,344h12v6h-12zM209,344h13v6h-13zM140,350h19v5h-19zM165,350h19v5h-19zM202,350h13v5h-13zM159,355h6v5h-6zM172,355h6v5h-6zM184,355h6v5h-6zM196,355h6v5h-6zM184,360h12v5h-12z"/><path fill="#7602f8" d="M152,128h63v4h-63zM90,132h12v6h-12zM115,132h13v6h-13zM140,132h38v6h-38zM190,132h6v6h-6zM215,132h7v6h-7zM234,132h25v6h-25zM78,138h12v5h-12zM102,138h13v5h-13zM128,138h12v5h-12zM172,138h6v5h-6zM222,138h6v5h-6zM272,138h6v5h-6zM278,143h12v5h-12zM74,148h4v5h-4zM296,148h6v5h-6zM302,153h7v5h-7zM315,158h7v6h-7zM328,164h6v4h-6zM74,168h4v6h-4zM359,168h6v6h-6zM428,168h6v6h-6zM74,174h4v5h-4zM365,174h7v5h-7zM365,179h7v5h-7zM365,184h7v6h-7zM402,184h7v6h-7zM372,190h24v4h-24zM402,190h13v4h-13zM372,194h12v6h-12zM402,194h20v6h-20zM396,200h19v5h-19zM396,205h6v5h-6zM415,205h13v5h-13zM415,210h7v5h-7zM365,215h7v5h-7zM390,215h32v5h-32zM359,220h6v6h-6zM372,220h6v6h-6zM384,220h18v6h-18zM352,226h7v4h-7zM346,230h6v6h-6zM396,230h6v6h-6zM334,236h6v5h-6zM334,252h6v4h-6zM334,256h6v6h-6zM440,262h19v5h-19zM434,267h25v5h-25zM334,272h6v6h-6zM434,272h6v6h-6zM446,272h13v6h-13zM328,278h12v4h-12zM434,278h6v4h-6zM459,278h6v4h-6zM315,282h7v6h-7zM328,282h6v6h-6zM434,282h6v6h-6zM309,288h6v5h-6zM446,288h19v5h-19zM296,293h19v5h-19zM74,298h10v5h-10zM296,298h6v5h-6zM74,303h10v5h-10zM296,303h6v5h-6zM74,308h10v6h-10zM290,308h6v6h-6zM84,314h6v4h-6zM90,318h6v6h-6zM259,318h13v6h-13zM96,324h6v5h-6zM246,324h6v5h-6zM109,329h13v5h-13zM122,334h12v6h-12zM228,334h6v6h-6zM134,340h12v4h-12zM209,340h6v4h-6zM222,340h6v4h-6zM146,344h38v6h-38zM196,344h13v6h-13zM159,350h6v5h-6zM184,350h6v5h-6zM196,350h6v5h-6zM190,355h6v5h-6z"/><path fill="#7903fc" d="M178,132h12v6h-12zM196,132h19v6h-19zM90,138h12v5h-12zM115,138h13v5h-13zM140,138h32v5h-32zM178,138h44v5h-44zM228,138h44v5h-44zM78,143h31v5h-31zM122,143h24v5h-24zM152,143h7v5h-7zM172,143h24v5h-24zM272,143h6v5h-6zM78,148h12v5h-12zM290,148h6v5h-6zM74,153h10v5h-10zM296,153h6v5h-6zM309,158h6v6h-6zM74,164h4v4h-4zM322,164h6v4h-6zM78,168h6v6h-6zM334,168h25v6h-25zM78,174h6v5h-6zM78,179h6v5h-6zM78,184h6v6h-6zM74,190h4v4h-4zM365,190h7v4h-7zM396,190h6v4h-6zM365,194h7v6h-7zM384,194h18v6h-18zM372,200h24v5h-24zM74,205h4v5h-4zM384,205h12v5h-12zM402,205h13v5h-13zM390,210h25v5h-25zM359,215h6v5h-6zM384,215h6v5h-6zM378,220h6v6h-6zM74,230h4v6h-4zM334,230h12v6h-12zM74,236h4v5h-4zM74,241h4v5h-4zM74,246h4v6h-4zM328,246h6v6h-6zM74,252h4v4h-4zM74,256h4v6h-4zM328,262h6v5h-6zM74,267h4v5h-4zM328,267h6v5h-6zM74,272h4v6h-4zM322,272h12v6h-12zM440,272h6v6h-6zM322,278h6v4h-6zM440,278h19v4h-19zM440,282h25v6h-25zM302,288h7v5h-7zM74,293h10v5h-10zM284,308h6v6h-6zM90,314h12v4h-12zM96,318h6v6h-6zM102,324h13v5h-13zM234,324h12v5h-12zM122,329h12v5h-12zM134,334h6v6h-6zM146,340h19v4h-19zM172,340h12v4h-12zM202,340h7v4h-7zM215,340h7v4h-7zM184,344h12v6h-12zM190,350h6v5h-6z"/><path fill="#7c03fe" d="M109,143h13v5h-13zM146,143h6v5h-6zM159,143h13v5h-13zM196,143h32v5h-32zM234,143h12v5h-12zM265,143h7v5h-7zM90,148h44v5h-44zM140,148h25v5h-25zM172,148h24v5h-24zM278,148h12v5h-12zM84,153h6v5h-6zM102,153h7v5h-7zM128,153h12v5h-12zM146,153h19v5h-19zM172,153h6v5h-6zM74,158h10v6h-10zM96,158h13v6h-13zM152,158h7v6h-7zM302,158h7v6h-7zM78,164h6v4h-6zM315,164h7v4h-7zM346,174h19v5h-19zM359,179h6v5h-6zM359,184h6v6h-6zM78,190h6v4h-6zM74,194h10v6h-10zM74,200h10v5h-10zM78,205h6v5h-6zM372,205h12v5h-12zM74,210h10v5h-10zM365,210h25v5h-25zM78,215h6v5h-6zM372,215h12v5h-12zM78,220h6v6h-6zM352,220h7v6h-7zM78,226h6v4h-6zM346,226h6v4h-6zM78,230h6v6h-6zM78,236h6v5h-6zM78,241h6v5h-6zM328,241h6v5h-6zM328,252h6v4h-6zM328,256h6v6h-6zM74,262h4v5h-4zM322,267h6v5h-6zM78,272h6v6h-6zM315,272h7v6h-7zM74,278h10v4h-10zM315,278h7v4h-7zM74,282h10v6h-10zM309,282h6v6h-6zM74,288h10v5h-10zM296,288h6v5h-6zM290,293h6v5h-6zM84,298h6v5h-6zM84,303h6v5h-6zM84,308h18v6h-18zM102,314h20v4h-20zM272,314h6v4h-6zM102,318h26v6h-26zM252,318h7v6h-7zM115,324h19v5h-19zM134,329h6v5h-6zM228,329h6v5h-6zM140,334h6v6h-6zM152,334h32v6h-32zM215,334h13v6h-13zM165,340h7v4h-7zM184,340h18v4h-18z"/><path fill="#7f04ff" d="M228,143h6v5h-6zM246,143h19v5h-19zM134,148h6v5h-6zM165,148h7v5h-7zM196,148h26v5h-26zM265,148h13v5h-13zM90,153h12v5h-12zM109,153h19v5h-19zM140,153h6v5h-6zM165,153h7v5h-7zM178,153h31v5h-31zM284,153h12v5h-12zM84,158h12v6h-12zM109,158h6v6h-6zM122,158h30v6h-30zM159,158h19v6h-19zM296,158h6v6h-6zM84,164h25v4h-25zM134,164h12v4h-12zM309,164h6v4h-6zM84,168h6v6h-6zM102,168h13v6h-13zM328,168h6v6h-6zM84,174h6v5h-6zM102,174h13v5h-13zM334,174h12v5h-12zM84,179h6v5h-6zM346,179h13v5h-13zM84,184h6v6h-6zM84,190h6v4h-6zM359,190h6v4h-6zM84,194h6v6h-6zM365,200h7v5h-7zM365,205h7v5h-7zM359,210h6v5h-6zM74,215h4v5h-4zM84,215h6v5h-6zM352,215h7v5h-7zM74,220h4v6h-4zM84,220h6v6h-6zM346,220h6v6h-6zM74,226h4v4h-4zM84,226h6v4h-6zM334,226h12v4h-12zM328,236h6v5h-6zM78,246h6v6h-6zM78,252h6v4h-6zM322,252h6v4h-6zM78,256h6v6h-6zM322,256h6v6h-6zM78,262h6v5h-6zM322,262h6v5h-6zM78,267h6v5h-6zM315,267h7v5h-7zM309,272h6v6h-6zM309,278h6v4h-6zM84,282h6v6h-6zM302,282h7v6h-7zM84,288h12v5h-12zM84,293h12v5h-12zM90,298h12v5h-12zM290,298h6v5h-6zM90,303h25v5h-25zM102,308h26v6h-26zM278,308h6v6h-6zM122,314h18v4h-18zM265,314h7v4h-7zM128,318h12v6h-12zM240,318h12v6h-12zM134,324h6v5h-6zM228,324h6v5h-6zM140,329h6v5h-6zM172,329h18v5h-18zM215,329h13v5h-13zM146,334h6v6h-6zM184,334h6v6h-6zM202,334h13v6h-13z"/><path fill="#8205fe" d="M222,148h6v5h-6zM240,148h6v5h-6zM259,148h6v5h-6zM209,153h13v5h-13zM272,153h12v5h-12zM115,158h7v6h-7zM178,158h24v6h-24zM109,164h25v4h-25zM146,164h26v4h-26zM90,168h12v6h-12zM115,168h31v6h-31zM322,168h6v6h-6zM90,174h12v5h-12zM115,174h7v5h-7zM328,174h6v5h-6zM90,179h25v5h-25zM334,179h12v5h-12zM90,184h19v6h-19zM352,184h7v6h-7zM96,190h13v4h-13zM352,190h7v4h-7zM96,194h6v6h-6zM359,194h6v6h-6zM84,200h6v5h-6zM84,205h6v5h-6zM84,210h6v5h-6zM90,215h6v5h-6zM346,215h6v5h-6zM340,220h6v6h-6zM84,230h6v6h-6zM328,230h6v6h-6zM84,246h6v6h-6zM322,246h6v6h-6zM84,262h6v5h-6zM315,262h7v5h-7zM84,267h6v5h-6zM302,267h13v5h-13zM84,272h6v6h-6zM302,272h7v6h-7zM84,278h12v4h-12zM302,278h7v4h-7zM90,282h12v6h-12zM296,282h6v6h-6zM96,288h6v5h-6zM290,288h6v5h-6zM96,293h13v5h-13zM284,293h6v5h-6zM102,298h13v5h-13zM115,303h7v5h-7zM290,303h6v5h-6zM128,308h18v6h-18zM140,314h6v4h-6zM259,314h6v4h-6zM140,318h19v6h-19zM234,318h6v6h-6zM140,324h44v5h-44zM146,329h26v5h-26zM190,329h25v5h-25zM190,334h12v6h-12z"/><path fill="#8505fc" d="M228,148h12v5h-12zM246,148h6v5h-6zM222,153h6v5h-6zM265,153h7v5h-7zM202,158h13v6h-13zM284,158h12v6h-12zM172,164h6v4h-6zM190,164h6v4h-6zM302,164h7v4h-7zM146,168h13v6h-13zM165,168h7v6h-7zM315,168h7v6h-7zM122,174h30v5h-30zM115,179h25v5h-25zM109,184h31v6h-31zM340,184h12v6h-12zM90,190h6v4h-6zM109,190h19v4h-19zM90,194h6v6h-6zM102,194h7v6h-7zM352,194h7v6h-7zM90,200h19v5h-19zM359,200h6v5h-6zM90,205h6v5h-6zM359,205h6v5h-6zM90,210h6v5h-6zM352,210h7v5h-7zM90,220h6v6h-6zM334,220h6v6h-6zM90,226h6v4h-6zM90,230h6v6h-6zM84,236h6v5h-6zM84,241h6v5h-6zM322,241h6v5h-6zM84,252h6v4h-6zM315,252h7v4h-7zM84,256h6v6h-6zM315,256h7v6h-7zM309,262h6v5h-6zM90,267h6v5h-6zM296,267h6v5h-6zM90,272h6v6h-6zM296,272h6v6h-6zM96,278h6v4h-6zM102,282h7v6h-7zM290,282h6v6h-6zM102,288h7v5h-7zM284,288h6v5h-6zM109,293h13v5h-13zM115,298h13v5h-13zM284,298h6v5h-6zM122,303h24v5h-24zM284,303h6v5h-6zM146,308h6v6h-6zM272,308h6v6h-6zM146,314h13v4h-13zM172,314h6v4h-6zM159,318h25v6h-25zM228,318h6v6h-6zM184,324h44v5h-44z"/><path fill="#8806f9" d="M252,148h7v5h-7zM234,153h12v5h-12zM215,158h7v6h-7zM272,158h12v6h-12zM178,164h12v4h-12zM196,164h13v4h-13zM290,164h12v4h-12zM159,168h6v6h-6zM172,168h12v6h-12zM309,168h6v6h-6zM152,174h7v5h-7zM322,174h6v5h-6zM140,179h12v5h-12zM328,179h6v5h-6zM140,184h6v6h-6zM334,184h6v6h-6zM128,190h12v4h-12zM346,190h6v4h-6zM109,194h19v6h-19zM109,200h6v5h-6zM352,200h7v5h-7zM96,205h13v5h-13zM352,205h7v5h-7zM96,210h13v5h-13zM346,210h6v5h-6zM96,215h6v5h-6zM340,215h6v5h-6zM328,226h6v4h-6zM90,236h6v5h-6zM322,236h6v5h-6zM90,241h6v5h-6zM90,246h6v6h-6zM90,252h6v4h-6zM90,262h6v5h-6zM96,267h6v5h-6zM96,272h6v6h-6zM102,278h7v4h-7zM296,278h6v4h-6zM109,288h6v5h-6zM122,293h6v5h-6zM278,293h6v5h-6zM128,298h12v5h-12zM278,298h6v5h-6zM146,303h6v5h-6zM278,303h6v5h-6zM152,308h7v6h-7zM172,308h6v6h-6zM265,308h7v6h-7zM159,314h13v4h-13zM178,314h6v4h-6zM246,314h13v4h-13zM184,318h44v6h-44z"/><path fill="#8b07f4" d="M228,153h6v5h-6zM246,153h6v5h-6zM259,153h6v5h-6zM222,158h6v6h-6zM265,158h7v6h-7zM278,164h12v4h-12zM184,168h18v6h-18zM159,174h43v5h-43zM315,174h7v5h-7zM152,179h13v5h-13zM146,184h6v6h-6zM140,190h6v4h-6zM334,190h12v4h-12zM128,194h12v6h-12zM346,194h6v6h-6zM115,200h13v5h-13zM346,200h6v5h-6zM109,205h13v5h-13zM346,205h6v5h-6zM109,210h6v5h-6zM102,215h7v5h-7zM96,220h6v6h-6zM328,220h6v6h-6zM96,226h6v4h-6zM96,230h6v6h-6zM322,230h6v6h-6zM96,236h6v5h-6zM315,246h7v6h-7zM90,256h6v6h-6zM309,256h6v6h-6zM96,262h6v5h-6zM302,262h7v5h-7zM102,272h7v6h-7zM290,272h6v6h-6zM109,278h6v4h-6zM290,278h6v4h-6zM109,282h6v6h-6zM284,282h6v6h-6zM115,288h13v5h-13zM278,288h6v5h-6zM128,293h6v5h-6zM265,293h7v5h-7zM140,298h12v5h-12zM259,298h13v5h-13zM152,303h7v5h-7zM259,303h19v5h-19zM159,308h13v6h-13zM178,308h6v6h-6zM259,308h6v6h-6zM184,314h18v4h-18zM240,314h6v4h-6z"/><path fill="#9008e6" d="M252,153h7v5h-7zM259,158h6v6h-6zM215,164h13v4h-13zM265,164h7v4h-7zM278,168h12v6h-12zM315,179h7v5h-7zM159,184h13v6h-13zM322,184h6v6h-6zM322,190h6v4h-6zM328,194h12v6h-12zM334,200h12v5h-12zM122,205h6v5h-6zM340,205h6v5h-6zM115,215h7v5h-7zM328,215h6v5h-6zM109,220h6v6h-6zM322,226h6v4h-6zM102,230h7v6h-7zM315,241h7v5h-7zM102,246h7v6h-7zM309,252h6v4h-6zM109,267h6v5h-6zM115,272h7v6h-7zM122,278h6v4h-6zM128,282h6v6h-6zM134,288h6v5h-6zM178,303h6v5h-6zM252,303h7v5h-7zM190,308h6v6h-6zM215,308h7v6h-7zM240,308h12v6h-12z"/><path fill="#8e07ee" d="M228,158h18v6h-18zM209,164h6v4h-6zM272,164h6v4h-6zM202,168h7v6h-7zM290,168h19v6h-19zM202,174h7v5h-7zM309,174h6v5h-6zM165,179h44v5h-44zM322,179h6v5h-6zM152,184h7v6h-7zM328,184h6v6h-6zM146,190h6v4h-6zM328,190h6v4h-6zM140,194h6v6h-6zM340,194h6v6h-6zM128,200h6v5h-6zM115,210h7v5h-7zM340,210h6v5h-6zM109,215h6v5h-6zM334,215h6v5h-6zM102,220h7v6h-7zM102,226h7v4h-7zM96,241h6v5h-6zM96,246h6v6h-6zM96,252h6v4h-6zM96,256h6v6h-6zM102,262h7v5h-7zM296,262h6v5h-6zM102,267h7v5h-7zM290,267h6v5h-6zM109,272h6v6h-6zM115,278h7v4h-7zM284,278h6v4h-6zM115,282h13v6h-13zM278,282h6v6h-6zM128,288h6v5h-6zM265,288h13v5h-13zM134,293h12v5h-12zM259,293h6v5h-6zM272,293h6v5h-6zM152,298h7v5h-7zM272,298h6v5h-6zM159,303h19v5h-19zM184,308h6v6h-6zM252,308h7v6h-7zM202,314h38v4h-38z"/><path fill="#9309de" d="M246,158h6v6h-6zM228,164h6v4h-6zM272,168h6v6h-6zM209,179h6v5h-6zM172,184h6v6h-6zM315,184h7v6h-7zM152,190h7v4h-7zM146,194h6v6h-6zM322,194h6v6h-6zM134,200h6v5h-6zM322,200h12v5h-12zM334,205h6v5h-6zM122,210h6v5h-6zM334,210h6v5h-6zM322,215h6v5h-6zM322,220h6v6h-6zM109,226h6v4h-6zM102,236h7v5h-7zM315,236h7v5h-7zM102,241h7v5h-7zM309,246h6v6h-6zM102,252h7v4h-7zM102,256h7v6h-7zM109,262h6v5h-6zM284,272h6v6h-6zM272,282h6v6h-6zM259,288h6v5h-6zM146,293h6v5h-6zM159,298h6v5h-6zM252,298h7v5h-7zM246,303h6v5h-6zM196,308h19v6h-19zM222,308h18v6h-18z"/><path fill="#960ad4" d="M252,158h7v6h-7zM234,164h12v4h-12zM265,168h7v6h-7zM309,179h6v5h-6zM178,184h6v6h-6zM190,184h12v6h-12zM140,200h6v5h-6zM128,205h6v5h-6zM322,205h12v5h-12zM322,210h12v5h-12zM315,230h7v6h-7zM290,262h6v5h-6zM115,267h7v5h-7zM122,272h6v6h-6zM128,278h6v4h-6zM278,278h6v4h-6zM134,282h6v6h-6zM265,282h7v6h-7zM140,288h6v5h-6zM152,293h7v5h-7zM165,298h7v5h-7zM246,298h6v5h-6zM184,303h6v5h-6zM222,303h6v5h-6zM234,303h12v5h-12z"/><path fill="#980cc8" d="M246,164h6v4h-6zM259,164h6v4h-6zM209,168h6v6h-6zM284,174h12v5h-12zM184,184h6v6h-6zM202,184h13v6h-13zM159,190h6v4h-6zM315,190h7v4h-7zM115,220h7v6h-7zM315,226h7v4h-7zM109,230h6v6h-6zM109,256h6v6h-6zM284,267h6v5h-6zM190,303h6v5h-6zM215,303h7v5h-7zM228,303h6v5h-6z"/><path fill="#9d0eae" d="M252,164h7v4h-7zM215,168h7v6h-7zM259,168h6v6h-6zM272,174h6v5h-6zM215,184h7v6h-7zM172,190h6v4h-6zM146,200h6v5h-6zM315,205h7v5h-7zM315,220h7v6h-7zM115,226h7v4h-7zM109,236h6v5h-6zM109,246h6v6h-6zM302,252h7v4h-7zM290,256h6v6h-6zM115,262h7v5h-7zM122,267h6v5h-6zM140,282h6v6h-6zM178,298h6v5h-6zM202,303h7v5h-7z"/><path fill="#9b0dbc" d="M222,168h6v6h-6zM209,174h6v5h-6zM278,174h6v5h-6zM296,174h13v5h-13zM165,190h7v4h-7zM152,194h7v6h-7zM315,194h7v6h-7zM315,200h7v5h-7zM134,205h6v5h-6zM128,210h6v5h-6zM315,210h7v5h-7zM122,215h6v5h-6zM315,215h7v5h-7zM309,241h6v5h-6zM109,252h6v4h-6zM296,256h13v6h-13zM272,278h6v4h-6zM146,288h6v5h-6zM159,293h6v5h-6zM252,293h7v5h-7zM172,298h6v5h-6zM240,298h6v5h-6zM196,303h6v5h-6zM209,303h6v5h-6z"/><path fill="#a00fa0" d="M228,168h12v6h-12zM265,174h7v5h-7zM215,179h7v5h-7zM309,184h6v6h-6zM178,190h6v4h-6zM109,241h6v5h-6zM115,256h7v6h-7zM284,262h6v5h-6zM278,267h6v5h-6zM128,272h6v6h-6zM278,272h6v6h-6zM265,278h7v4h-7zM152,288h7v5h-7zM165,293h7v5h-7z"/><path fill="#a21191" d="M240,168h6v6h-6zM184,190h12v4h-12zM159,194h6v6h-6zM140,205h6v5h-6zM128,215h6v5h-6zM122,220h6v6h-6zM302,246h7v6h-7zM134,278h6v4h-6zM259,282h6v6h-6zM246,293h6v5h-6zM184,298h6v5h-6zM234,298h6v5h-6z"/><path fill="#a41281" d="M246,168h13v6h-13zM302,179h7v5h-7zM196,190h6v4h-6zM134,210h6v5h-6zM115,230h7v6h-7zM309,236h6v5h-6zM115,252h7v4h-7zM296,252h6v4h-6zM272,272h6v6h-6zM252,288h7v5h-7zM172,293h6v5h-6zM190,298h6v5h-6zM228,298h6v5h-6z"/><path fill="#a71470" d="M215,174h7v5h-7zM259,174h6v5h-6zM228,179h6v5h-6zM222,184h6v6h-6zM202,190h7v4h-7zM165,194h7v6h-7zM152,200h7v5h-7zM309,226h6v4h-6zM309,230h6v6h-6zM302,241h7v5h-7zM290,252h6v4h-6zM284,256h6v6h-6zM278,262h6v5h-6zM272,267h6v5h-6zM146,282h6v6h-6zM159,288h6v5h-6zM240,293h6v5h-6zM196,298h6v5h-6zM222,298h6v5h-6z"/><path fill="#a9165e" d="M222,174h12v5h-12zM222,179h6v5h-6zM209,190h6v4h-6zM309,190h6v4h-6zM122,226h6v4h-6zM115,236h7v5h-7zM128,267h6v5h-6zM265,272h7v6h-7zM165,288h7v5h-7zM178,293h6v5h-6zM209,298h13v5h-13z"/><path fill="#ab174c" d="M234,174h6v5h-6zM284,179h6v5h-6zM296,179h6v5h-6zM215,190h7v4h-7zM172,194h6v6h-6zM309,194h6v6h-6zM309,200h6v5h-6zM146,205h6v5h-6zM309,220h6v6h-6zM302,236h7v5h-7zM115,246h7v6h-7zM296,246h6v6h-6zM122,262h6v5h-6zM140,278h6v4h-6zM202,298h7v5h-7z"/><path fill="#ae193a" d="M240,174h6v5h-6zM252,174h7v5h-7zM278,179h6v5h-6zM290,179h6v5h-6zM178,194h6v6h-6zM159,200h6v5h-6zM140,210h6v5h-6zM309,210h6v5h-6zM134,215h6v5h-6zM309,215h6v5h-6zM128,220h6v6h-6zM302,230h7v6h-7zM115,241h7v5h-7zM278,256h6v6h-6zM272,262h6v5h-6zM265,267h7v5h-7zM152,282h7v6h-7zM172,288h6v5h-6zM246,288h6v5h-6zM184,293h6v5h-6zM234,293h6v5h-6z"/><path fill="#b01b27" d="M246,174h6v5h-6zM265,179h13v5h-13zM302,184h7v6h-7zM184,194h6v6h-6zM309,205h6v5h-6zM122,230h6v6h-6zM284,252h6v4h-6zM134,272h6v6h-6zM190,293h6v5h-6z"/><path fill="#b42001" d="M234,179h6v5h-6zM190,194h12v6h-12zM165,200h7v5h-7zM128,226h6v4h-6zM159,282h6v6h-6zM178,288h6v5h-6zM240,288h6v5h-6zM196,293h6v5h-6zM228,293h6v5h-6z"/><path fill="#b82500" d="M240,179h6v5h-6zM222,190h6v4h-6zM209,194h6v6h-6zM172,200h6v5h-6zM146,210h6v5h-6zM134,220h6v6h-6zM296,230h6v6h-6zM122,246h6v6h-6zM128,262h6v5h-6zM152,278h7v4h-7zM246,282h6v6h-6zM184,288h6v5h-6zM202,293h7v5h-7zM222,293h6v5h-6z"/><path fill="#bb2700" d="M246,179h6v5h-6zM296,184h6v6h-6zM302,190h7v4h-7zM215,194h7v6h-7zM159,205h6v5h-6zM140,215h6v5h-6zM302,215h7v5h-7zM296,226h6v4h-6zM128,230h6v6h-6zM290,241h6v5h-6zM284,246h6v6h-6zM259,267h6v5h-6zM140,272h6v6h-6zM165,282h7v6h-7zM209,293h13v5h-13z"/><path fill="#bd2a00" d="M252,179h7v5h-7zM284,184h12v6h-12zM302,200h7v5h-7zM302,205h7v5h-7zM302,210h7v5h-7zM265,256h7v6h-7zM190,288h6v5h-6z"/><path fill="#b62200" d="M259,179h6v5h-6zM202,194h7v6h-7zM302,220h7v6h-7zM122,236h6v5h-6zM296,236h6v5h-6zM122,241h6v5h-6zM122,252h6v4h-6zM278,252h6v4h-6zM272,256h6v6h-6zM265,262h7v5h-7zM134,267h6v5h-6zM259,272h6v6h-6zM146,278h6v4h-6zM252,282h7v6h-7zM234,288h6v5h-6z"/><path fill="#b21e14" d="M228,184h6v6h-6zM152,205h7v5h-7zM302,226h7v4h-7zM296,241h6v5h-6zM290,246h6v6h-6zM122,256h6v6h-6zM259,278h6v4h-6z"/><path fill="#c12f00" d="M234,184h6v6h-6zM272,184h6v6h-6zM184,200h6v5h-6zM134,226h6v4h-6zM272,226h6v4h-6zM128,236h6v5h-6zM284,241h6v5h-6zM278,246h6v6h-6zM196,288h6v5h-6zM228,288h6v5h-6z"/><path fill="#c73900" d="M240,184h12v6h-12zM296,210h6v5h-6zM152,215h7v5h-7zM278,220h6v6h-6zM290,220h6v6h-6zM134,230h6v6h-6zM265,230h7v6h-7zM134,236h6v5h-6zM134,241h6v5h-6zM272,241h6v5h-6zM178,246h6v6h-6zM134,252h6v4h-6zM246,278h6v4h-6zM184,282h6v6h-6zM234,282h6v6h-6z"/><path fill="#ca4000" d="M252,184h13v6h-13zM290,190h6v4h-6zM209,200h6v5h-6zM290,210h6v5h-6zM265,215h19v5h-19zM146,220h6v6h-6zM259,220h6v6h-6zM259,226h6v4h-6zM140,230h6v6h-6zM265,236h7v5h-7zM140,241h6v5h-6zM172,246h6v6h-6zM265,246h7v6h-7zM178,256h12v6h-12zM252,267h7v5h-7zM165,278h7v4h-7zM190,282h6v6h-6zM215,288h13v5h-13z"/><path fill="#c53600" d="M265,184h7v6h-7zM222,194h6v6h-6zM190,200h12v5h-12zM159,210h6v5h-6zM296,215h6v5h-6zM140,220h6v6h-6zM272,220h6v6h-6zM284,226h6v4h-6zM272,236h12v5h-12zM278,241h6v5h-6zM134,246h6v6h-6zM272,246h6v6h-6zM128,252h6v4h-6zM172,252h6v4h-6zM184,252h6v4h-6zM140,267h6v5h-6zM146,272h6v6h-6zM252,272h7v6h-7zM159,278h6v4h-6zM240,282h6v6h-6zM202,288h7v5h-7z"/><path fill="#bf2d00" d="M278,184h6v6h-6zM228,190h6v4h-6zM302,194h7v6h-7zM178,200h6v5h-6zM152,210h7v5h-7zM296,220h6v6h-6zM290,230h6v6h-6zM290,236h6v5h-6zM272,252h6v4h-6zM172,282h6v6h-6z"/><path fill="#cc4400" d="M234,190h6v4h-6zM284,190h6v4h-6zM228,194h6v6h-6zM215,200h7v5h-7zM296,200h6v5h-6zM178,205h6v5h-6zM290,205h6v5h-6zM165,210h7v5h-7zM284,215h6v5h-6zM152,220h7v6h-7zM146,226h6v4h-6zM259,230h6v6h-6zM140,236h6v5h-6zM265,241h7v5h-7zM146,246h6v6h-6zM165,246h7v6h-7zM184,246h6v6h-6zM140,252h6v4h-6zM172,256h6v6h-6zM190,256h6v6h-6zM196,282h6v6h-6z"/><path fill="#d65800" d="M240,190h6v4h-6zM284,194h6v6h-6zM278,200h12v5h-12zM202,205h20v5h-20zM265,205h13v5h-13zM196,210h6v5h-6zM259,210h6v5h-6zM165,220h7v6h-7zM252,220h7v6h-7zM159,236h6v5h-6zM165,241h13v5h-13zM190,241h6v5h-6zM252,241h7v5h-7zM202,252h7v4h-7zM159,262h6v5h-6zM152,267h20v5h-20zM178,267h12v5h-12zM172,272h12v6h-12zM190,278h6v4h-6z"/><path fill="#d75d00" d="M246,190h19v4h-19zM265,194h19v6h-19zM265,200h13v5h-13zM259,205h6v5h-6zM184,210h12v5h-12zM202,210h7v5h-7zM172,215h6v5h-6zM159,230h6v6h-6zM246,230h6v6h-6zM178,236h12v5h-12zM246,236h6v5h-6zM196,241h6v5h-6zM202,246h7v6h-7zM252,246h7v6h-7zM252,252h7v4h-7zM252,256h7v6h-7zM146,262h6v5h-6zM196,262h6v5h-6zM172,267h6v5h-6zM190,267h6v5h-6zM184,272h6v6h-6zM246,272h6v6h-6zM196,278h6v4h-6zM240,278h6v4h-6zM215,282h13v6h-13z"/><path fill="#d45400" d="M265,190h7v4h-7zM234,194h6v6h-6zM290,194h6v6h-6zM278,205h6v5h-6zM172,210h12v5h-12zM159,226h6v4h-6zM178,241h12v5h-12zM152,252h7v4h-7zM159,256h6v6h-6zM165,262h19v5h-19zM252,262h7v5h-7zM165,272h7v6h-7zM184,278h6v4h-6z"/><path fill="#d04b00" d="M272,190h6v4h-6zM184,205h6v5h-6zM284,205h6v5h-6zM272,210h12v5h-12zM259,215h6v5h-6zM152,226h7v4h-7zM252,230h7v6h-7zM152,236h7v5h-7zM259,236h6v5h-6zM152,241h7v5h-7zM152,246h7v6h-7zM196,246h6v6h-6zM140,256h6v6h-6zM146,267h6v5h-6zM178,278h6v4h-6zM228,282h6v6h-6z"/><path fill="#ce4700" d="M278,190h6v4h-6zM296,194h6v6h-6zM284,210h6v5h-6zM159,220h6v6h-6zM146,230h6v6h-6zM146,236h6v5h-6zM146,241h6v5h-6zM159,246h6v6h-6zM190,246h6v6h-6zM159,252h6v4h-6zM196,252h6v4h-6zM259,252h6v4h-6zM165,256h7v6h-7zM140,262h6v5h-6zM159,272h6v6h-6zM172,278h6v4h-6zM202,282h7v6h-7z"/><path fill="#c93c00" d="M296,190h6v4h-6zM202,200h7v5h-7zM172,205h6v5h-6zM296,205h6v5h-6zM159,215h6v5h-6zM290,215h6v5h-6zM284,220h6v6h-6zM140,226h6v4h-6zM140,246h6v6h-6zM165,252h7v4h-7zM190,252h6v4h-6zM134,256h6v6h-6zM259,256h6v6h-6zM152,272h7v6h-7zM209,288h6v5h-6z"/><path fill="#dd6b00" d="M240,194h6v6h-6zM252,194h7v6h-7zM234,200h6v5h-6zM252,200h7v5h-7zM172,220h6v6h-6zM196,220h6v6h-6zM240,226h6v4h-6zM172,230h6v6h-6zM240,230h6v6h-6zM240,236h6v5h-6zM209,252h6v4h-6zM246,256h6v6h-6zM209,278h6v4h-6z"/><path fill="#e07600" d="M246,194h6v6h-6zM240,200h12v5h-12zM234,205h12v5h-12zM240,210h6v5h-6zM215,215h7v5h-7zM240,215h6v5h-6zM202,226h7v4h-7zM234,226h6v4h-6zM196,230h6v6h-6zM234,241h6v5h-6zM215,252h7v4h-7zM234,252h6v4h-6zM240,256h6v6h-6zM209,262h6v5h-6zM246,262h6v5h-6zM215,278h13v4h-13zM234,278h6v4h-6z"/><path fill="#d96100" d="M259,194h6v6h-6zM228,200h6v5h-6zM259,200h6v5h-6zM222,205h6v5h-6zM209,210h13v5h-13zM252,210h7v5h-7zM196,215h6v5h-6zM252,215h7v5h-7zM165,226h7v4h-7zM246,226h6v4h-6zM165,236h13v5h-13zM202,241h7v5h-7zM246,241h6v5h-6zM246,246h6v6h-6zM146,256h13v6h-13zM202,256h7v6h-7zM152,262h7v5h-7zM196,267h6v5h-6zM190,272h6v6h-6zM202,278h7v4h-7z"/><path fill="#d25000" d="M222,200h6v5h-6zM290,200h6v5h-6zM190,205h12v5h-12zM265,210h7v5h-7zM165,215h7v5h-7zM252,226h7v4h-7zM152,230h7v6h-7zM252,236h7v5h-7zM159,241h6v5h-6zM259,241h6v5h-6zM259,246h6v6h-6zM146,252h6v4h-6zM196,256h6v6h-6zM184,262h12v5h-12zM209,282h6v6h-6z"/><path fill="#c33200" d="M165,205h7v5h-7zM146,215h6v5h-6zM265,220h7v6h-7zM265,226h7v4h-7zM278,226h6v4h-6zM290,226h6v4h-6zM272,230h18v6h-18zM284,236h6v5h-6zM128,241h6v5h-6zM128,246h6v6h-6zM178,252h6v4h-6zM265,252h7v4h-7zM128,256h6v6h-6zM134,262h6v5h-6zM259,262h6v5h-6zM252,278h7v4h-7zM178,282h6v6h-6z"/><path fill="#df7100" d="M228,205h6v5h-6zM246,205h6v5h-6zM222,210h6v5h-6zM246,210h6v5h-6zM184,215h6v5h-6zM209,215h6v5h-6zM246,215h6v5h-6zM202,220h7v6h-7zM240,220h6v6h-6zM172,226h6v4h-6zM178,230h6v6h-6zM202,230h7v6h-7zM209,236h6v5h-6zM215,246h7v6h-7zM234,246h6v6h-6zM209,256h6v6h-6zM202,267h7v5h-7zM246,267h6v5h-6zM202,272h7v6h-7z"/><path fill="#db6600" d="M252,205h7v5h-7zM178,215h6v5h-6zM190,215h6v5h-6zM202,215h7v5h-7zM246,220h6v6h-6zM165,230h7v6h-7zM190,236h19v5h-19zM209,241h6v5h-6zM240,241h6v5h-6zM209,246h6v6h-6zM240,246h6v6h-6zM240,252h12v4h-12zM202,262h7v5h-7zM196,272h6v6h-6z"/><path fill="#e48100" d="M228,210h12v5h-12zM234,215h6v5h-6zM178,220h6v6h-6zM209,220h6v6h-6zM209,230h6v6h-6zM234,230h6v6h-6zM228,246h6v6h-6zM222,252h12v4h-12zM215,256h7v6h-7zM209,267h6v5h-6zM209,272h6v6h-6z"/><path fill="#e78d00" d="M222,215h6v5h-6zM184,220h6v6h-6zM190,226h6v4h-6zM228,241h6v5h-6zM222,256h6v6h-6zM215,262h7v5h-7zM215,267h7v5h-7z"/><path fill="#e58700" d="M228,215h6v5h-6zM178,226h6v4h-6zM209,226h6v4h-6zM215,272h7v6h-7z"/><path fill="#e27c00" d="M190,220h6v6h-6zM234,220h6v6h-6zM196,226h6v4h-6zM184,230h12v6h-12zM234,236h6v5h-6zM215,241h7v5h-7zM222,246h6v6h-6zM228,278h6v4h-6z"/><path fill="#e99300" d="M215,220h7v6h-7zM228,220h6v6h-6zM222,241h6v5h-6zM234,256h6v6h-6zM222,272h6v6h-6z"/><path fill="#eea700" d="M222,220h6v6h-6zM215,226h7v4h-7zM228,230h6v6h-6zM222,262h6v5h-6zM222,267h6v5h-6z"/><path fill="#ea9a00" d="M184,226h6v4h-6zM228,226h6v4h-6zM215,236h7v5h-7zM228,236h6v5h-6zM228,256h6v6h-6zM240,262h6v5h-6z"/><path fill="#f3bd00" d="M222,226h6v4h-6zM228,262h6v5h-6zM240,267h6v5h-6z"/><path fill="#efae00" d="M215,230h7v6h-7z"/><path fill="#f6cc00" d="M222,230h6v6h-6z"/><path fill="#f1b500" d="M222,236h6v5h-6zM228,272h6v6h-6z"/><path fill="#f4c400" d="M234,262h6v5h-6z"/><path fill="#f9dc00" d="M228,267h6v5h-6z"/><path fill="#ffff00" d="M234,267h6v5h-6z"/><path fill="#f7d400" d="M234,272h6v6h-6z"/><path fill="#eca000" d="M240,272h6v6h-6z"/><path fill="#260024" d="M434,324h50v5h-50zM496,324h6v5h-6zM428,329h12v5h-12zM502,329h22v5h-22zM522,334h2v6h-2zM434,340h6v4h-6zM459,340h6v4h-6zM522,340h2v4h-2zM309,344h6v6h-6zM440,344h6v6h-6zM459,344h6v6h-6zM309,350h6v5h-6zM452,350h20v5h-20zM515,350h9v5h-9zM309,355h6v5h-6zM478,355h24v5h-24zM509,355h6v5h-6zM522,355h2v5h-2zM84,360h6v5h-6zM502,360h13v5h-13zM465,386h7v5h-7zM352,391h13v5h-13zM459,391h19v5h-19zM346,396h32v6h-32zM465,396h13v6h-13zM346,402h26v4h-26zM422,402h6v4h-6zM452,402h7v4h-7zM465,402h7v4h-7zM346,406h19v6h-19zM428,406h12v6h-12zM446,406h26v6h-26zM340,412h32v5h-32zM446,412h19v5h-19zM352,417h7v3h-7zM378,417h6v3h-6zM434,417h6v3h-6zM459,417h6v3h-6z"/><path fill="#1a0011" d="M440,329h6v5h-6zM459,329h43v5h-43zM434,334h6v6h-6zM459,334h13v6h-13zM502,334h20v6h-20zM440,340h6v4h-6zM452,340h7v4h-7zM465,340h13v4h-13zM509,340h13v4h-13zM446,344h13v6h-13zM465,344h7v6h-7zM478,344h6v6h-6zM490,344h12v6h-12zM515,344h9v6h-9zM472,350h43v5h-43zM502,355h7v5h-7zM459,396h6v6h-6zM372,402h12v4h-12zM415,402h7v4h-7zM459,402h6v4h-6zM365,406h7v6h-7zM372,412h12v5h-12zM428,412h12v5h-12zM346,417h6v3h-6zM428,417h6v3h-6zM452,417h7v3h-7z"/><path fill="#000000" d="M446,329h13v5h-13zM440,334h19v6h-19zM472,334h30v6h-30zM446,340h6v4h-6zM478,340h31v4h-31zM472,344h6v6h-6zM484,344h6v6h-6zM502,344h13v6h-13zM384,402h31v4h-31zM372,406h56v6h-56zM384,412h44v5h-44zM384,417h44v3h-44z"/></g><path d="M89.5,103.0L94.5,100.9L97.0,99.9L92.0,96.8L95.8,94.7L99.5,92.7L103.9,91.2L109.5,92.3L114.5,93.1L123.2,94.5L128.2,95.8L132.0,94.7L137.0,93.7L140.8,93.1L144.5,94.7L149.5,94.7L155.8,97.8L162.0,98.3L164.5,96.8L169.5,97.8L174.5,98.3L178.2,96.8L179.5,93.7L181.4,89.6L184.5,92.7L187.0,95.8L189.5,96.8L192.0,94.7L197.0,94.1L198.2,96.8L197.0,99.9L192.0,98.9L190.8,102.0L192.0,105.1L189.5,106.1L184.5,108.2L183.2,111.3L181.4,114.4L181.4,116.9L183.9,120.6L187.0,120.6L189.5,121.6L193.2,124.1L196.4,124.7L197.0,128.9L198.2,130.9L199.5,132.6L200.8,131.3L200.8,126.8L203.2,123.7L203.2,119.6L201.4,116.9L202.6,113.4L202.0,109.6L205.8,109.6L209.5,110.9L212.0,112.3L212.6,116.5L214.5,117.9L217.0,116.9L218.6,113.8L220.8,117.5L222.6,121.6L224.5,124.7L227.6,126.8L229.5,129.9L229.5,132.0L225.8,134.7L222.0,134.7L217.0,135.1L214.5,137.1L212.0,140.2L214.5,137.6L218.2,136.7L218.9,140.2L220.8,143.3L223.2,144.4L220.8,146.2L217.6,148.5L217.0,146.4L215.8,145.4L213.2,147.5L211.4,149.1L212.0,151.6L209.5,153.3L207.0,154.7L206.4,157.2L204.8,160.9L204.5,165.1L203.2,167.1L200.8,169.6L198.2,173.3L197.9,176.4L199.1,182.6L199.1,186.2L198.0,186.2L197.0,183.7L196.0,180.0L195.1,176.9L193.2,177.1L191.4,175.6L188.9,175.8L187.6,177.9L185.8,177.9L182.2,177.1L180.1,178.9L177.9,181.6L177.6,186.8L177.2,192.4L178.2,196.7L179.8,199.6L181.4,200.9L184.5,200.0L185.8,199.2L186.4,195.1L189.5,194.0L190.8,194.4L189.9,198.2L189.5,201.3L188.5,205.4L190.1,205.8L192.0,205.6L194.5,206.4L195.4,207.5L194.9,212.6L194.9,215.7L196.1,218.8L197.6,220.1L199.5,219.5L200.8,218.6L202.6,220.5L203.2,222.0M202.6,223.6L201.6,221.3L200.1,220.1L199.1,221.3L199.1,223.4L197.6,222.6L195.8,221.3L194.5,218.8L192.4,217.8L192.2,215.7L190.1,211.6L187.6,210.6L185.1,209.5L182.6,206.4L180.8,205.0L178.2,205.8L175.1,204.0L172.2,201.7L169.8,200.2L167.6,197.1L167.9,194.0L167.0,190.9L164.5,186.8L162.6,183.7L161.4,181.6L159.1,178.5L158.0,174.4L156.1,172.9L156.2,176.4L158.2,179.5L159.5,182.6L160.8,185.8L162.0,188.9L162.6,190.9L161.4,189.9L159.5,186.8L158.2,183.1L155.8,181.0L156.4,178.5L154.5,175.4L153.2,171.3L151.4,168.2L148.9,167.1L147.2,163.0L145.8,159.9L144.5,155.8L144.1,151.6L144.5,147.5L144.5,142.3L143.6,138.6L145.8,138.8L145.8,136.7L143.2,135.1L140.1,133.0L139.5,129.9L137.0,125.8L135.1,123.7L133.2,120.6L130.8,118.5L128.2,117.1L124.5,115.0L120.8,114.4L117.0,112.7L114.5,113.8L112.0,115.8L109.5,116.5L110.1,112.7L107.6,115.4L106.4,118.5L103.9,120.0L101.4,122.7L98.2,124.1L94.5,125.3L96.4,123.3L99.5,121.6L102.0,118.9L102.6,116.9L99.5,116.9L97.0,115.4L96.4,114.0L93.2,112.7L92.0,110.2L93.6,108.2L98.2,106.7L98.2,104.9L95.8,105.1L92.0,104.9L89.5,103.0M208.2,76.7L213.2,75.1L218.2,71.4L224.5,68.9L234.5,67.8L243.2,67.2L252.0,65.8L262.0,65.8L269.5,67.4L274.5,69.5L282.0,69.9L277.0,73.0L275.8,76.1L274.5,80.3L275.1,83.4L272.0,87.5L269.5,89.6L272.0,92.7L268.2,94.1L265.8,96.8L260.8,97.8L257.0,100.9L253.2,102.6L249.5,104.0L248.2,107.1L246.4,111.3L245.1,114.4L243.2,114.4L239.5,112.3L237.0,109.2L235.1,106.1L233.2,102.0L232.6,98.9L235.8,94.7L231.4,92.7L232.0,89.6L229.5,86.5L227.6,83.4L224.5,81.3L218.2,81.3L213.2,80.3L210.8,78.2L208.2,76.7M199.5,86.0L203.2,87.9L207.0,90.0L210.8,91.6L214.5,93.3L215.8,95.8L219.5,98.9L222.6,100.3L220.1,104.0L217.6,106.1L218.2,109.2L214.5,107.1L217.0,110.2L212.0,108.6L208.2,105.5L204.5,105.1L202.0,105.1L202.6,103.0L207.0,103.0L207.6,98.9L204.5,96.8L201.4,93.7L197.0,93.9L193.2,93.7L188.9,92.7L187.0,89.6L188.2,86.5L193.2,86.0L198.2,87.5L199.5,86.0M187.0,80.7L193.2,80.9L199.5,80.7L202.0,79.2L204.5,76.1L209.5,74.0L214.5,72.0L220.8,69.3L217.0,67.4L209.5,66.8L199.5,66.8L190.8,68.3L184.5,70.3L189.5,73.0L192.0,76.1L188.2,78.2L187.0,80.7M184.5,84.0L192.0,84.4L199.5,84.0L198.9,81.9L193.2,81.7L187.0,81.3L184.5,84.0M153.2,95.8L158.2,96.8L164.5,96.4L169.5,96.2L173.2,93.7L169.5,91.6L168.2,87.9L163.2,87.9L158.2,88.5L152.6,90.6L155.8,92.7L153.2,95.8M143.2,89.6L145.8,91.2L149.5,90.6L153.2,87.5L154.5,85.4L149.5,84.6L143.9,85.4L143.2,89.6M153.2,82.9L159.5,84.4L167.0,83.4L167.0,81.3L162.0,80.7L154.5,80.7L153.2,82.9M172.0,82.1L178.2,83.4L182.0,82.3L179.5,79.8L173.2,80.3L172.0,82.1M174.5,87.9L179.5,90.0L182.0,88.5L180.8,85.8L177.0,85.4L174.5,87.9M193.2,103.0L197.0,106.1L199.5,106.7L198.2,108.8L194.5,108.2L191.4,106.1L193.2,103.0M179.5,73.0L185.8,74.5L190.8,73.6L184.5,71.4L179.5,73.0M225.4,139.8L229.5,141.7L233.2,141.9L233.6,139.8L232.6,137.1L230.1,135.1L229.5,132.0L227.9,134.0L226.4,137.1L225.4,139.8M193.2,193.4L195.8,190.9L198.9,190.7L202.0,192.4L204.5,194.6L206.8,196.7L205.1,197.3L202.4,197.3L202.0,195.7L200.1,193.8L197.0,192.2L195.1,192.8L193.2,193.4M206.5,200.2L208.2,197.3L210.1,197.3L212.0,197.7L214.0,200.0L212.6,200.4L210.8,200.9L209.5,200.9L206.5,200.2M201.6,200.6L203.2,200.2L204.2,201.3L202.6,201.7L201.6,200.6M215.5,200.4L217.4,200.4L217.2,201.3L215.5,201.3L215.5,200.4M203.2,222.0L204.5,218.8L205.4,216.4L207.0,215.3L208.9,214.1L210.1,212.8L209.8,215.7L210.4,217.8L209.8,219.3L210.8,219.3L210.8,216.2L212.0,213.7L213.9,215.7L216.4,216.6L218.9,217.4L221.4,216.4L222.6,218.2L224.5,220.9L226.4,224.0L228.2,226.1L230.8,226.3L232.6,227.1L234.9,229.2L236.4,234.4L237.0,237.5L236.4,239.1L238.9,239.9L240.8,239.9L243.9,243.3L247.0,244.3L249.5,244.5L251.4,246.2L253.2,248.6L255.4,249.9L256.0,254.0L255.4,258.2L253.2,261.9L251.4,265.4L250.8,269.5L250.5,275.3L249.5,279.9L248.2,284.0L245.8,286.1L243.2,287.7L240.8,289.8L238.9,292.3L238.6,297.5L236.4,302.6L233.9,306.8L232.6,309.2L230.8,310.7L228.2,309.9L226.5,309.2L228.0,312.6L228.5,314.6L227.4,317.5L224.5,319.0L222.0,319.2L221.6,322.9L218.2,323.3L219.8,326.4L218.0,328.5L217.6,331.6L215.1,333.7L217.0,336.8L215.1,340.9L213.2,343.6L213.9,346.7L211.4,347.5L213.2,349.2L215.1,350.2L217.9,351.9L215.8,352.9L212.6,352.9L210.1,350.6L207.6,348.1L206.0,345.0L206.4,340.9L205.1,336.8L207.0,333.7L207.9,329.5L208.2,325.4L207.2,322.3L207.6,317.1L208.2,314.0L209.5,308.8L210.1,303.7L210.4,298.5L211.1,292.3L211.6,286.1L211.8,279.9L211.5,276.4L209.5,273.7L207.0,271.6L204.5,267.9L203.2,263.9L202.0,259.6L200.5,255.0L198.9,251.5L198.0,248.8L198.2,246.4L199.5,244.7L198.5,242.6L198.9,239.5L199.5,237.1L200.8,235.8L201.4,233.3L202.6,231.3L202.9,227.1L202.6,223.6M223.2,345.0L227.0,344.6L227.0,346.1L223.9,346.5L223.2,345.0M292.2,164.4L295.8,165.7L298.2,165.1L300.8,163.0L304.5,162.2L308.9,162.0L312.0,161.3L313.2,162.4L312.4,167.1L313.2,169.2L315.8,170.4L318.6,171.7L321.4,174.6L323.9,175.6L324.5,172.3L327.0,170.7L330.8,172.7L333.9,174.0L337.0,173.8L339.9,173.8L340.1,176.4L341.4,180.6L343.2,185.8L344.1,189.3L345.5,193.0L346.1,198.2L347.6,201.3L348.9,206.4L350.8,208.5L353.0,212.2L353.6,214.7L355.8,216.8L358.9,215.3L363.2,213.7L363.5,216.8L362.0,222.0L359.5,229.2L357.0,233.7L353.9,238.5L352.0,241.6L349.9,244.7L348.6,248.8L348.0,251.9L348.9,256.1L349.2,260.2L350.1,264.4L350.4,269.5L348.9,272.6L345.8,275.3L343.2,279.5L343.0,283.0L343.9,287.1L340.8,291.2L340.5,294.4L339.5,298.5L337.6,302.2L335.1,306.3L332.0,308.6L328.9,308.8L324.5,310.5L322.6,309.2L322.2,305.7L321.1,301.6L319.9,297.5L318.2,293.3L317.6,286.1L316.4,281.9L314.5,275.7L314.2,271.6L315.1,266.4L316.8,262.3L315.8,257.1L314.8,250.9L313.2,246.8L311.4,243.7L310.8,239.9L311.4,236.4L311.6,231.9L310.5,229.2L308.2,229.6L306.4,228.2L305.1,225.5L302.0,225.5L299.5,226.7L297.0,228.6L294.5,227.7L292.0,228.6L290.1,229.4L288.2,227.7L285.8,224.4L283.5,221.3L282.6,218.4L280.8,215.7L278.6,212.6L278.5,209.5L277.9,207.9L278.9,204.4L279.1,199.2L278.2,195.1L279.5,189.9L281.0,185.8L283.2,181.2L285.5,178.9L287.0,177.1L287.4,173.8L288.9,169.6L291.0,167.8L292.2,164.4M361.1,263.5L362.5,270.6L361.4,275.7L360.1,281.9L358.5,289.8L356.0,291.2L354.1,287.1L353.9,283.0L354.9,278.8L354.5,273.7L356.4,271.2L358.2,269.5L359.9,266.4L361.1,263.5M292.5,164.0L291.4,162.4L288.5,162.0L288.5,159.3L287.6,158.2L288.5,154.7L288.5,151.6L288.0,149.1L290.1,147.9L293.9,148.7L297.2,148.7L298.0,146.0L298.1,143.3L296.6,140.9L293.9,139.4L293.8,138.2L296.0,137.8L297.5,137.8L297.2,135.7L298.2,136.3L299.8,135.9L301.5,134.5L301.8,133.0L303.9,132.2L304.9,130.5L305.6,128.9L307.0,127.8L308.5,127.6L310.1,127.4L310.5,125.6L309.6,123.7L309.6,120.6L311.8,119.6L312.8,119.1L312.4,121.6L313.0,122.7L311.8,124.1L312.0,125.8L313.2,126.8L315.1,126.0L317.0,126.8L319.5,126.0L322.6,125.1L324.2,126.0L325.8,123.7L325.8,120.6L327.6,119.1L328.9,120.6L329.9,118.9L329.9,117.5L328.9,116.0L331.4,115.2L334.5,115.4L337.0,114.6L335.1,113.1L332.0,113.6L328.2,114.6L326.4,113.1L326.1,110.2L327.6,107.1L330.8,104.0L331.1,102.8L329.2,102.4L327.0,103.0L326.0,104.7L323.2,107.6L321.4,109.6L321.0,112.3L323.0,114.4L322.0,116.5L320.4,118.5L320.1,121.6L319.2,122.5L317.4,123.7L315.8,123.9L315.1,122.0L314.2,119.6L313.5,116.5L312.6,115.6L311.4,116.7L309.5,118.3L307.6,118.3L306.4,116.5L305.9,113.4L305.8,110.7L307.0,108.8L309.9,107.1L312.0,105.7L314.5,103.0L315.8,100.9L317.6,98.5L319.5,96.4L321.8,94.7L324.5,93.7L327.0,92.7L330.8,91.6L333.9,91.6L336.4,93.1L338.2,93.1L337.0,94.3L340.8,94.9L344.5,95.4L349.5,97.8L351.0,99.3L350.8,100.9L347.6,102.0L343.2,100.5L340.8,100.3L342.6,102.6L343.0,105.1L345.8,106.3L347.0,105.1L349.5,104.7L350.1,102.0L352.6,100.9L354.5,101.6L354.9,99.9L354.2,96.8L357.0,97.4L357.6,99.9L359.5,98.3L362.6,97.2L366.4,96.8L367.6,97.2L370.8,96.6L373.2,95.8L375.1,94.1L375.8,96.0L380.1,95.4L383.2,95.8L384.9,95.8L383.2,94.1L383.2,91.6L385.5,88.5L388.2,87.5L390.5,87.9L389.5,90.6L390.5,92.7L390.1,95.8L391.4,97.8L388.9,100.9L390.1,101.4L392.6,99.5L393.0,96.8L392.0,95.1L391.4,90.6L393.2,88.9L393.9,90.6L397.0,89.1L400.1,89.6L400.8,86.5L404.5,86.0L408.2,85.4L407.6,83.4L412.0,82.1L417.0,81.3L420.8,81.3L424.5,80.3L427.0,78.2L430.1,77.8L432.0,78.6L430.8,79.6L434.5,79.8L438.2,79.8L441.4,81.3L441.4,84.4L437.0,85.4L439.5,86.0L442.0,86.3L447.0,87.1L449.5,87.5L454.5,86.0L458.2,87.1L460.8,89.6L461.4,91.6L464.5,90.4L467.0,90.8L470.8,90.8L473.9,88.9L475.1,87.9L478.2,88.5L483.2,89.1L487.0,90.6L490.1,91.8L494.5,91.6L498.9,93.1L499.5,94.3L503.2,94.3L508.2,94.7L510.1,93.7L512.6,95.8L513.2,93.7L518.2,94.1L522.0,95.1L524.5,96.0M74.5,96.0L78.2,97.4L81.4,99.5L85.1,100.5L87.2,102.0L84.5,104.0L83.2,105.3L80.1,104.5L77.0,103.0L74.5,103.6M524.5,103.6L522.6,105.1L520.8,104.7L523.2,108.2L523.6,109.4L519.5,109.6L516.4,111.1L512.4,114.4L509.5,113.8L507.0,114.6L503.9,117.1L502.0,118.9L503.2,121.6L501.8,124.7L499.5,128.5L497.4,130.9L495.4,133.0L494.5,129.9L494.5,125.8L494.0,121.6L495.5,118.9L498.2,116.5L502.0,113.4L503.9,110.2L501.4,111.3L499.5,110.7L497.0,111.3L493.9,114.8L492.6,115.6L490.1,116.7L488.9,115.8L485.1,115.6L481.4,115.8L477.6,116.0L473.9,119.6L471.4,122.7L468.9,125.3L471.4,126.8L473.9,126.8L476.1,128.9L475.8,131.3L475.1,134.0L474.9,138.2L473.0,141.3L471.1,144.4L468.9,147.5L466.4,149.8L464.9,149.1L463.0,150.6L461.8,152.7L461.4,154.3L458.9,156.6L459.9,158.9L461.2,162.0L461.2,164.9L460.1,166.1L457.6,167.3L457.4,165.1L457.9,162.0L455.8,160.3L456.1,156.8L454.9,155.8L452.4,154.7L451.0,157.8L452.0,157.8L451.4,154.1L448.9,156.2L446.8,157.8L447.0,159.5L448.2,161.3L450.4,160.3L452.6,161.5L450.8,163.0L448.9,165.5L449.8,168.2L451.4,171.3L451.8,174.4L451.8,177.5L451.4,180.0L449.9,182.6L448.9,185.8L447.0,187.8L445.1,190.9L442.4,192.0L440.8,193.0L438.2,194.0L437.0,196.5L436.6,194.0L435.3,193.2L434.0,199.4L431.4,205.4L429.5,209.5L432.0,217.4L428.2,217.2L425.3,217.0L424.0,208.9L421.0,208.9L420.1,204.4L418.7,205.8L417.4,205.4L417.6,201.9L416.8,198.6L414.9,195.1L413.9,191.8L412.4,193.0L410.8,193.0L408.5,194.0L408.0,196.1L406.4,197.7L404.5,200.6L402.4,204.0L400.1,205.8L399.6,209.5L399.9,212.0L399.2,214.7L399.2,217.2L398.2,219.3L397.2,220.3L396.4,221.7L395.1,219.9L394.2,215.7L393.0,212.0L392.4,208.5L391.4,205.4L390.8,201.7L390.5,198.6L390.2,195.1L390.1,193.0L388.2,195.5L386.0,192.6L387.6,190.9L385.1,189.9L383.9,188.9L382.9,186.4L380.1,186.4L376.4,186.6L373.2,186.0L371.1,185.1L370.5,182.6L368.2,183.3L366.4,183.3L363.9,181.0L362.6,178.1L362.0,176.2L360.4,175.8L359.5,176.9L360.1,180.0L361.4,182.6L362.2,184.1L363.0,186.8L363.6,184.7L364.1,187.8L365.1,188.4L367.0,188.6L368.9,186.0L369.9,184.1L370.0,187.2L371.4,189.3L373.0,189.9L374.2,192.2L373.0,195.5L371.8,199.2L370.1,201.3L368.2,203.3L365.5,204.8L363.9,206.9L360.8,208.9L358.9,210.6L355.8,212.0L353.9,212.2L353.2,210.6L352.9,207.1L352.4,203.7L350.8,199.6L349.1,196.1L348.2,193.0L347.4,189.9L346.1,187.2L345.1,184.7L343.2,180.6L343.2,177.5L342.4,180.6L341.4,179.5L340.2,176.4M339.9,173.8L342.2,173.8L343.2,170.7L344.2,167.1L344.5,164.0L344.8,162.4L342.6,162.6L340.8,163.8L339.5,163.0L337.6,163.4L335.8,162.6L333.9,162.2L333.6,159.9L332.6,157.8L332.4,155.8L333.2,154.7L335.8,153.5L338.9,153.3L341.4,151.6L343.5,151.6L345.1,153.1L347.6,153.9L350.1,153.7L351.5,152.4L351.4,150.2L349.5,148.5L347.6,146.7L346.1,145.0L347.0,142.3L348.5,140.9L346.4,141.3L343.6,142.7L345.1,144.6L343.5,145.8L341.5,146.7L340.1,144.2L341.4,143.3L339.2,142.3L337.6,142.9L336.6,144.8L335.4,147.5L334.5,150.0L334.5,152.2L335.5,153.3L333.2,154.5L332.0,153.9L330.1,153.9L328.9,155.3L327.9,155.1L328.2,157.2L329.5,159.5L328.5,160.1L328.2,162.6L327.4,163.0L326.4,161.3L326.0,159.3L324.9,156.8L323.9,154.7L323.9,152.2L322.6,150.6L320.8,149.1L318.9,147.5L317.6,145.0L316.6,144.2L315.0,144.8L315.0,147.1L316.5,148.5L317.2,151.0L319.5,151.8L319.5,152.9L322.0,154.5L322.6,155.6L320.8,154.7L320.2,156.4L320.9,157.8L319.6,160.1L319.1,159.9L319.2,157.8L318.2,155.6L317.0,154.1L315.1,152.7L313.5,150.8L312.4,148.9L311.8,147.3L310.5,146.7L308.9,147.9L307.0,149.3L305.5,148.7L303.5,149.1L303.5,151.8L302.0,153.1L300.5,154.1L299.5,156.2L299.8,158.2L298.9,159.3L298.2,160.9L297.0,162.4L293.9,162.6L292.5,164.0M360.8,142.3L363.9,141.3L365.8,142.3L366.4,145.4L363.2,146.4L362.6,149.6L365.1,152.7L366.4,155.8L365.8,157.8L367.0,162.0L364.5,162.6L362.0,161.1L360.8,158.9L361.4,154.7L359.5,151.6L358.2,147.5L358.2,144.4L360.8,142.3M372.6,143.3L375.1,143.3L375.8,146.4L373.2,147.9L372.6,143.3M392.0,145.4L395.1,142.7L398.2,142.3M292.6,135.1L295.8,134.0L300.1,133.4L301.4,132.4L301.6,129.5L299.9,128.9L299.5,127.2L297.6,124.7L297.0,122.7L295.1,122.2L297.0,119.6L294.5,119.1L295.5,117.3L293.2,117.3L292.0,119.6L292.4,122.7L293.2,124.7L295.5,125.1L295.8,127.8L293.9,128.5L294.2,130.9L293.0,131.3L295.1,132.2L293.9,133.0L292.6,135.1M287.0,131.8L289.5,131.6L291.6,130.5L292.0,127.8L292.6,125.6L291.4,124.3L289.5,124.3L287.0,126.4L287.6,128.5L287.0,131.8M269.5,103.0L272.0,101.1L277.0,101.6L280.8,101.6L282.4,104.0L280.8,105.7L276.4,107.4L273.2,106.5L271.4,106.1L272.0,104.5L269.5,103.0M313.2,73.6L317.0,77.2L320.8,79.8L324.5,76.1L327.0,76.5L325.8,73.6L333.2,73.0L327.0,72.0L319.5,73.0L313.2,73.6M363.9,90.0L365.8,92.0L369.5,92.5L371.4,90.6L368.9,87.5L372.0,84.8L375.8,82.3L382.0,80.3L385.1,79.6L382.0,78.8L374.5,80.3L369.5,82.3L367.0,85.4L365.1,87.9L363.9,90.0M418.2,75.1L423.2,77.2L428.2,76.5L430.8,74.5L424.5,73.0L420.8,70.9L415.8,73.0L418.2,75.1M472.0,84.4L475.8,85.8L479.5,83.4L485.8,82.9L482.0,81.9L474.5,81.3L472.0,84.4M359.5,72.6L368.2,73.0L377.0,71.6L372.0,69.9L362.0,70.9L359.5,72.6M477.0,126.2L478.2,128.9L478.6,133.0L479.0,136.5L478.0,140.2L478.9,142.7L477.0,143.3L477.0,139.2L477.0,135.1L476.6,130.9L477.0,126.2M475.8,144.6L478.2,146.9L481.1,147.5L479.5,149.6L478.2,151.6L476.1,150.6L474.5,151.6L474.9,148.9L476.4,148.5L475.8,144.6M475.5,152.9L476.8,155.8L476.6,158.9L475.8,162.0L475.4,164.7L474.2,166.1L472.6,166.7L470.8,166.9L469.5,169.2L468.2,167.1L465.8,167.5L463.2,168.2L462.6,169.8L462.2,173.3L463.6,173.8L464.5,170.2L466.4,168.6L467.6,168.6L467.0,169.8L465.8,170.7L465.1,169.2L463.2,167.3L465.1,165.3L468.2,164.9L470.1,162.8L471.0,161.1L472.6,161.3L473.9,158.9L474.5,155.8L474.5,153.7L475.5,152.9M399.5,218.8L401.4,222.0L400.8,225.5L399.5,224.0L399.5,218.8M417.2,226.3L425.3,235.8L431.0,244.1L426.0,244.5L421.0,235.0L417.2,226.3M445.2,224.4L446.0,233.3L442.0,244.9L435.3,239.5L445.2,224.4M449.8,200.9L452.0,201.5L452.0,209.5L449.8,208.3L449.8,200.9M451.5,223.2L454.5,218.2L455.2,225.1L451.5,223.2M447.2,216.6L448.5,215.3M431.5,251.5L436.5,252.6L441.5,254.4L435.3,254.0L431.5,251.5M462.2,241.6L475.2,243.3L486.5,259.0L474.0,254.4L464.0,244.5L462.2,241.6M441.4,284.0L442.2,287.1L441.4,291.2L442.0,295.4L443.2,300.6L444.1,304.7L443.2,309.5L445.8,310.9L448.2,309.5L450.8,308.4L453.9,308.6L457.0,305.3L460.1,304.1L463.2,303.7L466.4,305.1L468.2,309.9L469.5,310.5L471.4,306.8L472.0,308.8L471.4,311.9L473.9,313.0L475.1,317.1L477.6,318.1L480.1,317.5L482.4,319.2L484.5,316.7L487.0,315.7L487.6,311.9L488.9,307.8L490.5,303.7L491.4,298.5L491.0,292.3L490.1,289.8L488.2,287.1L487.0,284.6L485.1,280.5L482.6,277.8L482.0,274.7L481.4,269.5L480.1,268.1L478.9,265.4L478.0,260.8L477.0,262.3L476.5,266.4L476.4,270.6L475.5,274.7L473.9,274.7L471.4,271.6L469.5,269.5L469.5,266.4L470.5,263.7L468.9,263.3L465.8,262.3L463.9,262.3L462.0,265.0L461.4,269.1L459.5,269.1L458.2,267.5L456.4,268.5L454.5,272.6L452.6,273.7L452.0,276.8L450.1,279.5L447.0,280.5L444.5,281.5L442.6,283.4L441.4,284.0M480.4,322.7L482.6,323.5L484.9,322.9L484.8,325.8L483.6,328.1L482.0,328.5L481.0,326.0L480.4,322.7M515.4,309.9L517.4,311.5L518.2,314.0L519.5,316.1L522.0,316.3L522.4,318.1L520.8,320.2L520.5,322.3L518.6,324.6L517.9,323.9L518.5,321.2L516.8,319.8L517.8,317.1L517.6,314.4L515.8,311.3L515.4,309.9M515.5,322.3L517.0,323.3L517.4,325.0L515.8,327.4L515.5,329.1L513.6,330.1L513.0,333.2L511.4,334.9L509.2,334.5L507.6,333.2L509.5,330.1L512.0,327.4L513.6,325.4L514.5,322.9L515.5,322.3M74.5,398.6L87.0,398.6L96.5,398.6L100.8,396.7M96.5,398.6L99.5,401.3M74.5,412.5L93.2,413.5L113.4,414.3L110.8,406.9L108.5,401.3L113.4,396.7L122.8,393.6L134.0,391.2L145.2,389.3L154.6,390.7L164.0,393.0L173.4,389.9L186.5,388.1L197.8,388.5L206.0,386.2L212.8,380.6L216.5,375.0L222.1,370.5L225.9,370.5L224.0,376.9L222.1,383.3L224.0,391.8L231.5,395.7L240.9,397.6L250.2,401.3L259.6,402.3L257.8,405.0L239.0,406.1L224.0,405.8L210.9,404.2L199.6,400.5L196.6,397.6L205.2,396.3L222.1,393.8M207.0,386.2L210.8,382.3L215.1,377.7L218.2,374.0L220.8,371.3M224.0,403.0L235.8,401.5L244.5,404.0L234.5,405.2L224.0,403.0M240.9,397.6L254.0,397.6L261.5,394.5L272.8,389.3L284.0,385.6L293.4,382.5L299.0,380.6L302.8,383.3L314.0,382.5L324.5,382.9L334.5,382.3L346.0,380.2L354.5,377.7L363.8,374.6L370.8,376.1L378.2,378.1L386.8,381.6L395.8,379.2L404.5,375.6L414.5,375.0L423.9,374.6L434.5,375.0L445.8,375.6L455.8,374.6L467.0,375.0L477.0,376.7L487.0,378.7L498.2,381.0L504.5,383.3L510.8,386.4L507.0,391.6L501.9,398.8L505.4,405.8L512.0,408.7L517.8,411.0L524.5,412.3M258.2,396.1L267.0,392.0L278.2,387.4L289.5,383.9L297.6,381.9L302.8,383.3M505.4,397.0L514.5,398.2L523.1,398.8L524.5,398.6" fill="none" stroke="#0a90ff" stroke-width="1" stroke-linejoin="round" shape-rendering="crispEdges"/><rect x="535.5" y="57.5" width="22" height="362" fill="url(#cb)"/><path d="M535.5,385.5h4.5M553,385.5h4.5M535.5,342.4h4.5M553,342.4h4.5M535.5,299.2h4.5M553,299.2h4.5M535.5,256.1h4.5M553,256.1h4.5M535.5,212.9h4.5M553,212.9h4.5M535.5,169.8h4.5M553,169.8h4.5M535.5,126.6h4.5M553,126.6h4.5M535.5,83.5h4.5M553,83.5h4.5" stroke="#000" stroke-width="1" fill="none" shape-rendering="crispEdges"/><rect x="535.5" y="57.5" width="22" height="362" fill="none" stroke="#000" shape-rendering="crispEdges"/><rect x="74.5" y="57.5" width="450.0" height="362.0" fill="none" stroke="#000" shape-rendering="crispEdges"/><g font-family="Liberation Sans, Arial, sans-serif" font-size="15.55" fill="#000" opacity="0.99"><text transform="translate(296.70,31.50) scale(1.03,1)" text-anchor="middle">VTEC / TECU 20200409_100.67500</text><text transform="translate(32.50,73.50) scale(1.03,1)" text-anchor="start">'vtec_</text><text transform="translate(60.70,77.00) scale(1.03,1)" text-anchor="end">80</text><text transform="translate(60.70,118.75) scale(1.03,1)" text-anchor="end">60</text><text transform="translate(60.70,159.80) scale(1.03,1)" text-anchor="end">40</text><text transform="translate(60.70,201.00) scale(1.03,1)" text-anchor="end">20</text><text transform="translate(60.70,242.00) scale(1.03,1)" text-anchor="end">0</text><text transform="translate(60.70,283.00) scale(1.03,1)" text-anchor="end">-20</text><text transform="translate(60.70,324.25) scale(1.03,1)" text-anchor="end">-40</text><text transform="translate(60.70,365.50) scale(1.03,1)" text-anchor="end">-60</text><text transform="translate(60.70,407.00) scale(1.03,1)" text-anchor="end">-80</text><text transform="translate(112.00,442.00) scale(1.03,1)" text-anchor="middle">-150</text><text transform="translate(174.20,442.00) scale(1.03,1)" text-anchor="middle">-100</text><text transform="translate(235.50,442.00) scale(1.03,1)" text-anchor="middle">-50</text><text transform="translate(299.30,442.00) scale(1.03,1)" text-anchor="middle">0</text><text transform="translate(361.00,442.00) scale(1.03,1)" text-anchor="middle">50</text><text transform="translate(423.50,442.00) scale(1.03,1)" text-anchor="middle">100</text><text transform="translate(485.00,442.00) scale(1.03,1)" text-anchor="middle">150</text><text transform="translate(297.20,469.30) scale(1.03,1)" text-anchor="middle">Longitude / deg</text><text transform="translate(17,238.5) rotate(-90) scale(1.03,1)" text-anchor="middle">Latitude / deg</text><text transform="translate(571.50,388.50) scale(1.03,1)" text-anchor="start">5</text><text transform="translate(571.50,345.36) scale(1.03,1)" text-anchor="start">10</text><text transform="translate(571.50,302.21) scale(1.03,1)" text-anchor="start">15</text><text transform="translate(571.50,259.07) scale(1.03,1)" text-anchor="start">20</text><text transform="translate(571.50,215.93) scale(1.03,1)" text-anchor="start">25</text><text transform="translate(571.50,172.79) scale(1.03,1)" text-anchor="start">30</text><text transform="translate(571.50,129.64) scale(1.03,1)" text-anchor="start">35</text><text transform="translate(571.50,86.50) scale(1.03,1)" text-anchor="start">40</text></g></svg></body></html>
